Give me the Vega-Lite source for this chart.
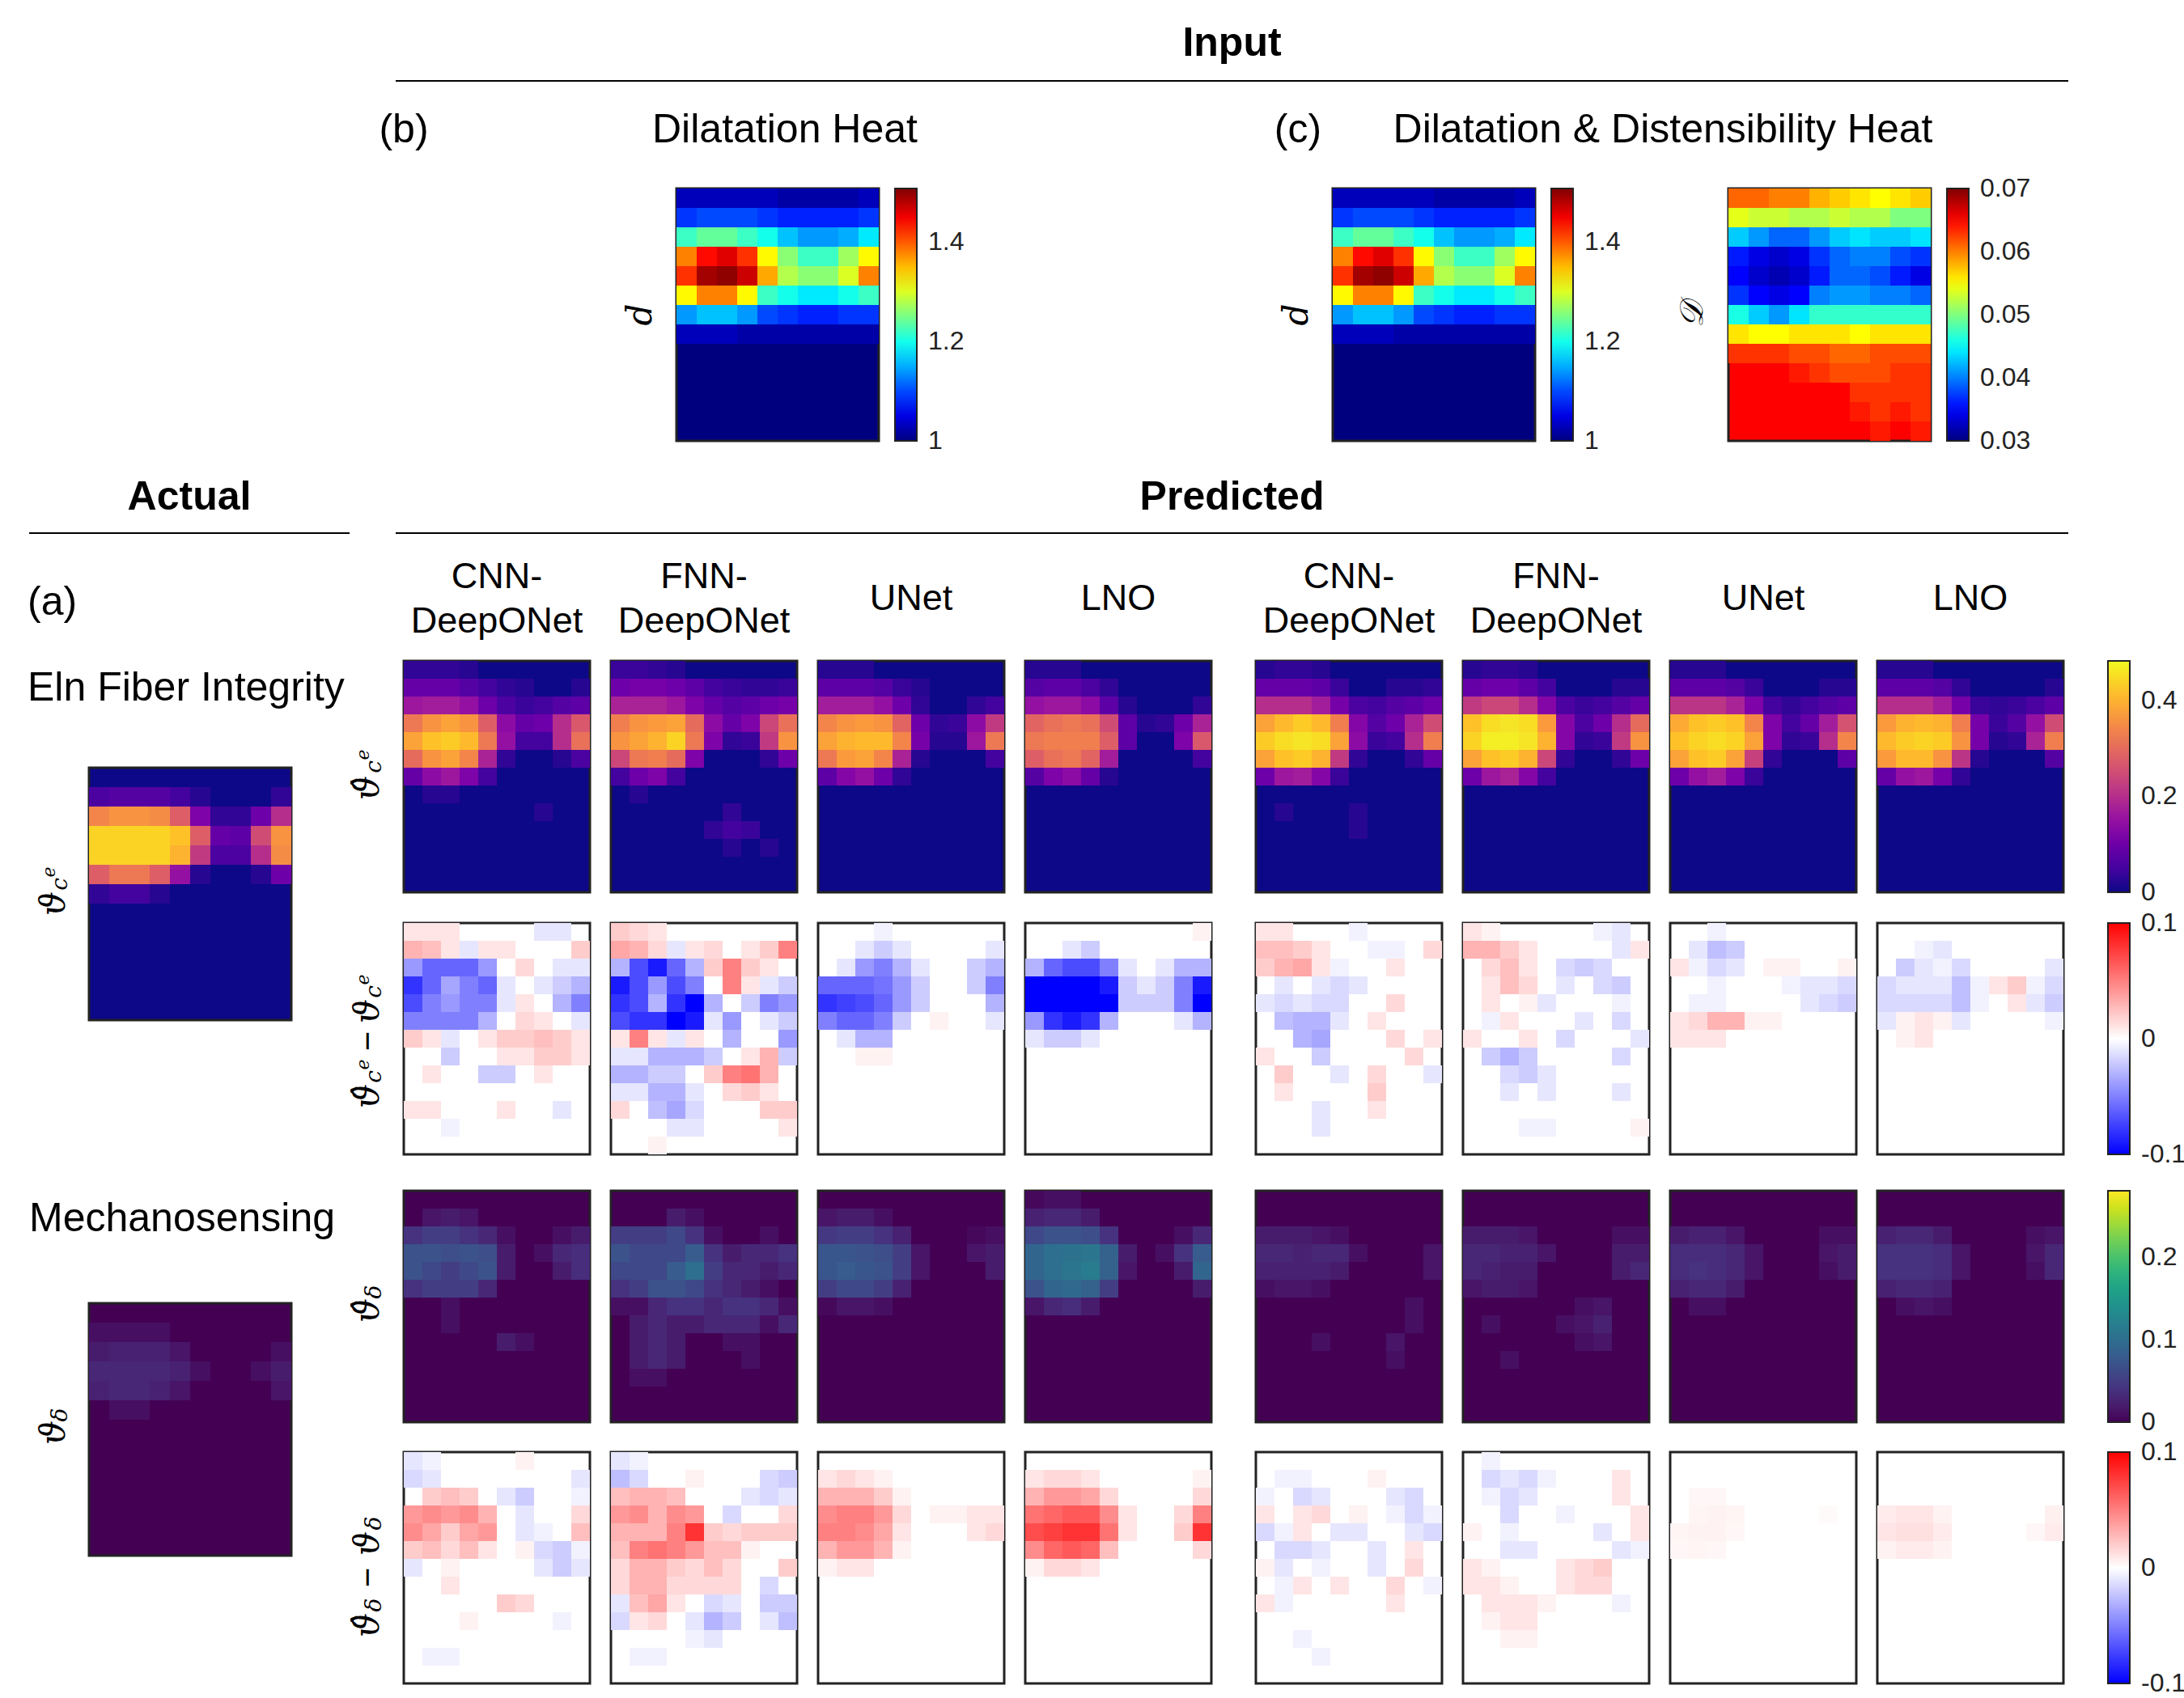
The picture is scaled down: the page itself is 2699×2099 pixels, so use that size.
{"$schema":"https://vega.github.io/schema/vega-lite/v6.json","padding":0,"background":"white","spacing":0,"resolve":{"scale":{"color":"independent"},"legend":{"color":"independent"}},
"config":{"axis":{"disable":true},"view":{"stroke":null},"text":{"font":"Liberation Sans","fontSize":50,"color":"black"},"legend":{"padding":0,"gradientThickness":27,"labelFontSize":32,"labelFont":"Liberation Sans","labelColor":"#222","gradientStrokeColor":"#222","gradientStrokeWidth":2,"offset":55,"gradientLength":286,"labelOverlap":false}},
"datasets":{
"i1":[{"c":0,"r":0,"v":1.03},{"c":1,"r":0,"v":1.03},{"c":2,"r":0,"v":1.03},{"c":3,"r":0,"v":1.03},{"c":4,"r":0,"v":1.03},{"c":5,"r":0,"v":1.02},{"c":6,"r":0,"v":1.02},{"c":7,"r":0,"v":1.02},{"c":8,"r":0,"v":1.02},{"c":9,"r":0,"v":1.03},{"c":0,"r":1,"v":1.09},{"c":1,"r":1,"v":1.1},{"c":2,"r":1,"v":1.1},{"c":3,"r":1,"v":1.1},{"c":4,"r":1,"v":1.09},{"c":5,"r":1,"v":1.08},{"c":6,"r":1,"v":1.08},{"c":7,"r":1,"v":1.08},{"c":8,"r":1,"v":1.08},{"c":9,"r":1,"v":1.09},{"c":0,"r":2,"v":1.22},{"c":1,"r":2,"v":1.24},{"c":2,"r":2,"v":1.24},{"c":3,"r":2,"v":1.22},{"c":4,"r":2,"v":1.2},{"c":5,"r":2,"v":1.16},{"c":6,"r":2,"v":1.14},{"c":7,"r":2,"v":1.14},{"c":8,"r":2,"v":1.15},{"c":9,"r":2,"v":1.18},{"c":0,"r":3,"v":1.38},{"c":1,"r":3,"v":1.44},{"c":2,"r":3,"v":1.46},{"c":3,"r":3,"v":1.42},{"c":4,"r":3,"v":1.32},{"c":5,"r":3,"v":1.26},{"c":6,"r":3,"v":1.22},{"c":7,"r":3,"v":1.22},{"c":8,"r":3,"v":1.27},{"c":9,"r":3,"v":1.32},{"c":0,"r":4,"v":1.42},{"c":1,"r":4,"v":1.49},{"c":2,"r":4,"v":1.5},{"c":3,"r":4,"v":1.47},{"c":4,"r":4,"v":1.36},{"c":5,"r":4,"v":1.28},{"c":6,"r":4,"v":1.26},{"c":7,"r":4,"v":1.26},{"c":8,"r":4,"v":1.3},{"c":9,"r":4,"v":1.38},{"c":0,"r":5,"v":1.32},{"c":1,"r":5,"v":1.38},{"c":2,"r":5,"v":1.38},{"c":3,"r":5,"v":1.32},{"c":4,"r":5,"v":1.22},{"c":5,"r":5,"v":1.2},{"c":6,"r":5,"v":1.18},{"c":7,"r":5,"v":1.18},{"c":8,"r":5,"v":1.2},{"c":9,"r":5,"v":1.22},{"c":0,"r":6,"v":1.14},{"c":1,"r":6,"v":1.16},{"c":2,"r":6,"v":1.16},{"c":3,"r":6,"v":1.14},{"c":4,"r":6,"v":1.1},{"c":5,"r":6,"v":1.09},{"c":6,"r":6,"v":1.08},{"c":7,"r":6,"v":1.08},{"c":8,"r":6,"v":1.09},{"c":9,"r":6,"v":1.09},{"c":0,"r":7,"v":1.03},{"c":1,"r":7,"v":1.03},{"c":2,"r":7,"v":1.03},{"c":3,"r":7,"v":1.02},{"c":4,"r":7,"v":1.02},{"c":5,"r":7,"v":1.02},{"c":6,"r":7,"v":1.02},{"c":7,"r":7,"v":1.02},{"c":8,"r":7,"v":1.02},{"c":9,"r":7,"v":1.02}],
"i3":[{"c":0,"r":0,"v":0.061},{"c":1,"r":0,"v":0.061},{"c":2,"r":0,"v":0.06},{"c":3,"r":0,"v":0.06},{"c":4,"r":0,"v":0.058},{"c":5,"r":0,"v":0.057},{"c":6,"r":0,"v":0.056},{"c":7,"r":0,"v":0.055},{"c":8,"r":0,"v":0.056},{"c":9,"r":0,"v":0.057},{"c":0,"r":1,"v":0.054},{"c":1,"r":1,"v":0.053},{"c":2,"r":1,"v":0.053},{"c":3,"r":1,"v":0.052},{"c":4,"r":1,"v":0.052},{"c":5,"r":1,"v":0.053},{"c":6,"r":1,"v":0.052},{"c":7,"r":1,"v":0.052},{"c":8,"r":1,"v":0.05},{"c":9,"r":1,"v":0.05},{"c":0,"r":2,"v":0.043},{"c":1,"r":2,"v":0.041},{"c":2,"r":2,"v":0.039},{"c":3,"r":2,"v":0.039},{"c":4,"r":2,"v":0.041},{"c":5,"r":2,"v":0.043},{"c":6,"r":2,"v":0.044},{"c":7,"r":2,"v":0.043},{"c":8,"r":2,"v":0.043},{"c":9,"r":2,"v":0.044},{"c":0,"r":3,"v":0.036},{"c":1,"r":3,"v":0.034},{"c":2,"r":3,"v":0.033},{"c":3,"r":3,"v":0.034},{"c":4,"r":3,"v":0.037},{"c":5,"r":3,"v":0.039},{"c":6,"r":3,"v":0.04},{"c":7,"r":3,"v":0.04},{"c":8,"r":3,"v":0.038},{"c":9,"r":3,"v":0.037},{"c":0,"r":4,"v":0.035},{"c":1,"r":4,"v":0.033},{"c":2,"r":4,"v":0.032},{"c":3,"r":4,"v":0.033},{"c":4,"r":4,"v":0.036},{"c":5,"r":4,"v":0.039},{"c":6,"r":4,"v":0.039},{"c":7,"r":4,"v":0.038},{"c":8,"r":4,"v":0.036},{"c":9,"r":4,"v":0.034},{"c":0,"r":5,"v":0.037},{"c":1,"r":5,"v":0.035},{"c":2,"r":5,"v":0.034},{"c":3,"r":5,"v":0.035},{"c":4,"r":5,"v":0.04},{"c":5,"r":5,"v":0.041},{"c":6,"r":5,"v":0.041},{"c":7,"r":5,"v":0.04},{"c":8,"r":5,"v":0.04},{"c":9,"r":5,"v":0.039},{"c":0,"r":6,"v":0.046},{"c":1,"r":6,"v":0.043},{"c":2,"r":6,"v":0.041},{"c":3,"r":6,"v":0.044},{"c":4,"r":6,"v":0.047},{"c":5,"r":6,"v":0.047},{"c":6,"r":6,"v":0.047},{"c":7,"r":6,"v":0.047},{"c":8,"r":6,"v":0.047},{"c":9,"r":6,"v":0.047},{"c":0,"r":7,"v":0.056},{"c":1,"r":7,"v":0.055},{"c":2,"r":7,"v":0.055},{"c":3,"r":7,"v":0.056},{"c":4,"r":7,"v":0.056},{"c":5,"r":7,"v":0.056},{"c":6,"r":7,"v":0.055},{"c":7,"r":7,"v":0.056},{"c":8,"r":7,"v":0.056},{"c":9,"r":7,"v":0.056},{"c":0,"r":8,"v":0.063},{"c":1,"r":8,"v":0.063},{"c":2,"r":8,"v":0.063},{"c":3,"r":8,"v":0.062},{"c":4,"r":8,"v":0.062},{"c":5,"r":8,"v":0.061},{"c":6,"r":8,"v":0.061},{"c":7,"r":8,"v":0.062},{"c":8,"r":8,"v":0.062},{"c":9,"r":8,"v":0.062},{"c":3,"r":9,"v":0.064},{"c":4,"r":9,"v":0.063},{"c":5,"r":9,"v":0.062},{"c":6,"r":9,"v":0.062},{"c":7,"r":9,"v":0.062},{"c":8,"r":9,"v":0.063},{"c":9,"r":9,"v":0.063},{"c":6,"r":10,"v":0.063},{"c":7,"r":10,"v":0.063},{"c":8,"r":10,"v":0.063},{"c":9,"r":10,"v":0.063},{"c":6,"r":11,"v":0.064},{"c":7,"r":11,"v":0.063},{"c":8,"r":11,"v":0.064},{"c":9,"r":11,"v":0.063},{"c":7,"r":12,"v":0.064},{"c":9,"r":12,"v":0.064}],
"a1":[{"c":0,"r":1,"v":0.06},{"c":1,"r":1,"v":0.07},{"c":2,"r":1,"v":0.07},{"c":3,"r":1,"v":0.07},{"c":4,"r":1,"v":0.05},{"c":5,"r":1,"v":0.02},{"c":9,"r":1,"v":0.03},{"c":0,"r":2,"v":0.34},{"c":1,"r":2,"v":0.36},{"c":2,"r":2,"v":0.36},{"c":3,"r":2,"v":0.35},{"c":4,"r":2,"v":0.28},{"c":5,"r":2,"v":0.12},{"c":6,"r":2,"v":0.03},{"c":7,"r":2,"v":0.03},{"c":8,"r":2,"v":0.1},{"c":9,"r":2,"v":0.2},{"c":0,"r":3,"v":0.44},{"c":1,"r":3,"v":0.44},{"c":2,"r":3,"v":0.44},{"c":3,"r":3,"v":0.44},{"c":4,"r":3,"v":0.42},{"c":5,"r":3,"v":0.28},{"c":6,"r":3,"v":0.09},{"c":7,"r":3,"v":0.08},{"c":8,"r":3,"v":0.25},{"c":9,"r":3,"v":0.36},{"c":0,"r":4,"v":0.44},{"c":1,"r":4,"v":0.44},{"c":2,"r":4,"v":0.44},{"c":3,"r":4,"v":0.44},{"c":4,"r":4,"v":0.4},{"c":5,"r":4,"v":0.22},{"c":6,"r":4,"v":0.06},{"c":7,"r":4,"v":0.06},{"c":8,"r":4,"v":0.2},{"c":9,"r":4,"v":0.35},{"c":0,"r":5,"v":0.28},{"c":1,"r":5,"v":0.32},{"c":2,"r":5,"v":0.32},{"c":3,"r":5,"v":0.28},{"c":4,"r":5,"v":0.15},{"c":5,"r":5,"v":0.02},{"c":8,"r":5,"v":0.02},{"c":9,"r":5,"v":0.1},{"c":0,"r":6,"v":0.03},{"c":1,"r":6,"v":0.05},{"c":2,"r":6,"v":0.05},{"c":3,"r":6,"v":0.02}],
"a2":[{"c":0,"r":1,"v":0.01},{"c":1,"r":1,"v":0.01},{"c":2,"r":1,"v":0.01},{"c":3,"r":1,"v":0.01},{"c":0,"r":2,"v":0.02},{"c":1,"r":2,"v":0.025},{"c":2,"r":2,"v":0.025},{"c":3,"r":2,"v":0.025},{"c":4,"r":2,"v":0.015},{"c":9,"r":2,"v":0.01},{"c":0,"r":3,"v":0.03},{"c":1,"r":3,"v":0.03},{"c":2,"r":3,"v":0.03},{"c":3,"r":3,"v":0.03},{"c":4,"r":3,"v":0.025},{"c":5,"r":3,"v":0.01},{"c":8,"r":3,"v":0.01},{"c":9,"r":3,"v":0.02},{"c":0,"r":4,"v":0.025},{"c":1,"r":4,"v":0.03},{"c":2,"r":4,"v":0.03},{"c":3,"r":4,"v":0.025},{"c":4,"r":4,"v":0.015},{"c":9,"r":4,"v":0.015},{"c":1,"r":5,"v":0.01},{"c":2,"r":5,"v":0.01}],
"m1":[{"c":0,"r":0,"v":0.03},{"c":1,"r":0,"v":0.03},{"c":2,"r":0,"v":0.03},{"c":3,"r":0,"v":0.02},{"c":0,"r":1,"v":0.09},{"c":1,"r":1,"v":0.09},{"c":2,"r":1,"v":0.09},{"c":3,"r":1,"v":0.07},{"c":4,"r":1,"v":0.05},{"c":5,"r":1,"v":0.03},{"c":6,"r":1,"v":0.02},{"c":9,"r":1,"v":0.02},{"c":0,"r":2,"v":0.16},{"c":1,"r":2,"v":0.17},{"c":2,"r":2,"v":0.17},{"c":3,"r":2,"v":0.15},{"c":4,"r":2,"v":0.1},{"c":5,"r":2,"v":0.06},{"c":6,"r":2,"v":0.04},{"c":7,"r":2,"v":0.05},{"c":8,"r":2,"v":0.07},{"c":9,"r":2,"v":0.08},{"c":0,"r":3,"v":0.32},{"c":1,"r":3,"v":0.36},{"c":2,"r":3,"v":0.38},{"c":3,"r":3,"v":0.36},{"c":4,"r":3,"v":0.28},{"c":5,"r":3,"v":0.14},{"c":6,"r":3,"v":0.09},{"c":7,"r":3,"v":0.1},{"c":8,"r":3,"v":0.2},{"c":9,"r":3,"v":0.27},{"c":0,"r":4,"v":0.38},{"c":1,"r":4,"v":0.42},{"c":2,"r":4,"v":0.43},{"c":3,"r":4,"v":0.41},{"c":4,"r":4,"v":0.32},{"c":5,"r":4,"v":0.15},{"c":6,"r":4,"v":0.05},{"c":7,"r":4,"v":0.05},{"c":8,"r":4,"v":0.2},{"c":9,"r":4,"v":0.31},{"c":0,"r":5,"v":0.3},{"c":1,"r":5,"v":0.36},{"c":2,"r":5,"v":0.38},{"c":3,"r":5,"v":0.34},{"c":4,"r":5,"v":0.18},{"c":5,"r":5,"v":0.03},{"c":8,"r":5,"v":0.02},{"c":9,"r":5,"v":0.06},{"c":0,"r":6,"v":0.09},{"c":1,"r":6,"v":0.14},{"c":2,"r":6,"v":0.16},{"c":3,"r":6,"v":0.12},{"c":4,"r":6,"v":0.05},{"c":1,"r":7,"v":0.02},{"c":2,"r":7,"v":0.02},{"c":7,"r":8,"v":0.02}],
"m2":[{"c":0,"r":0,"v":0.04},{"c":1,"r":0,"v":0.04},{"c":2,"r":0,"v":0.03},{"c":3,"r":0,"v":0.02},{"c":0,"r":1,"v":0.1},{"c":1,"r":1,"v":0.11},{"c":2,"r":1,"v":0.11},{"c":3,"r":1,"v":0.1},{"c":4,"r":1,"v":0.08},{"c":5,"r":1,"v":0.05},{"c":6,"r":1,"v":0.04},{"c":7,"r":1,"v":0.03},{"c":8,"r":1,"v":0.03},{"c":9,"r":1,"v":0.04},{"c":0,"r":2,"v":0.18},{"c":1,"r":2,"v":0.18},{"c":2,"r":2,"v":0.18},{"c":3,"r":2,"v":0.16},{"c":4,"r":2,"v":0.12},{"c":5,"r":2,"v":0.09},{"c":6,"r":2,"v":0.07},{"c":7,"r":2,"v":0.08},{"c":8,"r":2,"v":0.1},{"c":9,"r":2,"v":0.11},{"c":0,"r":3,"v":0.33},{"c":1,"r":3,"v":0.36},{"c":2,"r":3,"v":0.37},{"c":3,"r":3,"v":0.38},{"c":4,"r":3,"v":0.3},{"c":5,"r":3,"v":0.14},{"c":6,"r":3,"v":0.09},{"c":7,"r":3,"v":0.12},{"c":8,"r":3,"v":0.24},{"c":9,"r":3,"v":0.31},{"c":0,"r":4,"v":0.36},{"c":1,"r":4,"v":0.38},{"c":2,"r":4,"v":0.4},{"c":3,"r":4,"v":0.44},{"c":4,"r":4,"v":0.32},{"c":5,"r":4,"v":0.12},{"c":6,"r":4,"v":0.03},{"c":7,"r":4,"v":0.04},{"c":8,"r":4,"v":0.22},{"c":9,"r":4,"v":0.36},{"c":0,"r":5,"v":0.24},{"c":1,"r":5,"v":0.32},{"c":2,"r":5,"v":0.33},{"c":3,"r":5,"v":0.3},{"c":4,"r":5,"v":0.12},{"c":8,"r":5,"v":0.03},{"c":9,"r":5,"v":0.1},{"c":0,"r":6,"v":0.05},{"c":1,"r":6,"v":0.1},{"c":2,"r":6,"v":0.12},{"c":3,"r":6,"v":0.05},{"c":1,"r":7,"v":0.02},{"c":6,"r":8,"v":0.03},{"c":5,"r":9,"v":0.03},{"c":6,"r":9,"v":0.05},{"c":7,"r":9,"v":0.04},{"c":6,"r":10,"v":0.02},{"c":8,"r":10,"v":0.02}],
"m3":[{"c":0,"r":0,"v":0.02},{"c":1,"r":0,"v":0.02},{"c":2,"r":0,"v":0.02},{"c":0,"r":1,"v":0.08},{"c":1,"r":1,"v":0.08},{"c":2,"r":1,"v":0.08},{"c":3,"r":1,"v":0.07},{"c":4,"r":1,"v":0.04},{"c":5,"r":1,"v":0.02},{"c":0,"r":2,"v":0.17},{"c":1,"r":2,"v":0.17},{"c":2,"r":2,"v":0.17},{"c":3,"r":2,"v":0.15},{"c":4,"r":2,"v":0.1},{"c":5,"r":2,"v":0.03},{"c":8,"r":2,"v":0.03},{"c":9,"r":2,"v":0.05},{"c":0,"r":3,"v":0.34},{"c":1,"r":3,"v":0.36},{"c":2,"r":3,"v":0.37},{"c":3,"r":3,"v":0.36},{"c":4,"r":3,"v":0.29},{"c":5,"r":3,"v":0.1},{"c":6,"r":3,"v":0.03},{"c":7,"r":3,"v":0.04},{"c":8,"r":3,"v":0.14},{"c":9,"r":3,"v":0.22},{"c":0,"r":4,"v":0.38},{"c":1,"r":4,"v":0.4},{"c":2,"r":4,"v":0.41},{"c":3,"r":4,"v":0.41},{"c":4,"r":4,"v":0.34},{"c":5,"r":4,"v":0.11},{"c":6,"r":4,"v":0.02},{"c":7,"r":4,"v":0.02},{"c":8,"r":4,"v":0.16},{"c":9,"r":4,"v":0.32},{"c":0,"r":5,"v":0.32},{"c":1,"r":5,"v":0.37},{"c":2,"r":5,"v":0.38},{"c":3,"r":5,"v":0.34},{"c":4,"r":5,"v":0.18},{"c":5,"r":5,"v":0.02},{"c":9,"r":5,"v":0.05},{"c":0,"r":6,"v":0.08},{"c":1,"r":6,"v":0.13},{"c":2,"r":6,"v":0.15},{"c":3,"r":6,"v":0.1},{"c":4,"r":6,"v":0.03}],
"m4":[{"c":0,"r":0,"v":0.02},{"c":1,"r":0,"v":0.02},{"c":2,"r":0,"v":0.02},{"c":0,"r":1,"v":0.07},{"c":1,"r":1,"v":0.08},{"c":2,"r":1,"v":0.08},{"c":3,"r":1,"v":0.06},{"c":4,"r":1,"v":0.03},{"c":0,"r":2,"v":0.15},{"c":1,"r":2,"v":0.16},{"c":2,"r":2,"v":0.16},{"c":3,"r":2,"v":0.14},{"c":4,"r":2,"v":0.08},{"c":5,"r":2,"v":0.02},{"c":9,"r":2,"v":0.03},{"c":0,"r":3,"v":0.29},{"c":1,"r":3,"v":0.31},{"c":2,"r":3,"v":0.32},{"c":3,"r":3,"v":0.31},{"c":4,"r":3,"v":0.25},{"c":5,"r":3,"v":0.08},{"c":6,"r":3,"v":0.02},{"c":7,"r":3,"v":0.03},{"c":8,"r":3,"v":0.1},{"c":9,"r":3,"v":0.18},{"c":0,"r":4,"v":0.32},{"c":1,"r":4,"v":0.33},{"c":2,"r":4,"v":0.33},{"c":3,"r":4,"v":0.33},{"c":4,"r":4,"v":0.28},{"c":5,"r":4,"v":0.08},{"c":8,"r":4,"v":0.12},{"c":9,"r":4,"v":0.27},{"c":0,"r":5,"v":0.28},{"c":1,"r":5,"v":0.31},{"c":2,"r":5,"v":0.32},{"c":3,"r":5,"v":0.29},{"c":4,"r":5,"v":0.17},{"c":9,"r":5,"v":0.05},{"c":0,"r":6,"v":0.07},{"c":1,"r":6,"v":0.12},{"c":2,"r":6,"v":0.14},{"c":3,"r":6,"v":0.09},{"c":4,"r":6,"v":0.02}],
"m5":[{"c":0,"r":0,"v":0.02},{"c":1,"r":0,"v":0.03},{"c":2,"r":0,"v":0.03},{"c":3,"r":0,"v":0.02},{"c":0,"r":1,"v":0.09},{"c":1,"r":1,"v":0.09},{"c":2,"r":1,"v":0.09},{"c":3,"r":1,"v":0.08},{"c":4,"r":1,"v":0.04},{"c":7,"r":1,"v":0.02},{"c":8,"r":1,"v":0.02},{"c":9,"r":1,"v":0.03},{"c":0,"r":2,"v":0.2},{"c":1,"r":2,"v":0.2},{"c":2,"r":2,"v":0.2},{"c":3,"r":2,"v":0.17},{"c":4,"r":2,"v":0.11},{"c":5,"r":2,"v":0.06},{"c":6,"r":2,"v":0.05},{"c":7,"r":2,"v":0.07},{"c":8,"r":2,"v":0.08},{"c":9,"r":2,"v":0.1},{"c":0,"r":3,"v":0.38},{"c":1,"r":3,"v":0.41},{"c":2,"r":3,"v":0.43},{"c":3,"r":3,"v":0.41},{"c":4,"r":3,"v":0.33},{"c":5,"r":3,"v":0.13},{"c":6,"r":3,"v":0.07},{"c":7,"r":3,"v":0.1},{"c":8,"r":3,"v":0.18},{"c":9,"r":3,"v":0.25},{"c":0,"r":4,"v":0.43},{"c":1,"r":4,"v":0.45},{"c":2,"r":4,"v":0.46},{"c":3,"r":4,"v":0.45},{"c":4,"r":4,"v":0.38},{"c":5,"r":4,"v":0.14},{"c":6,"r":4,"v":0.04},{"c":7,"r":4,"v":0.05},{"c":8,"r":4,"v":0.2},{"c":9,"r":4,"v":0.33},{"c":0,"r":5,"v":0.38},{"c":1,"r":5,"v":0.42},{"c":2,"r":5,"v":0.43},{"c":3,"r":5,"v":0.4},{"c":4,"r":5,"v":0.22},{"c":5,"r":5,"v":0.03},{"c":8,"r":5,"v":0.03},{"c":9,"r":5,"v":0.09},{"c":0,"r":6,"v":0.1},{"c":1,"r":6,"v":0.16},{"c":2,"r":6,"v":0.17},{"c":3,"r":6,"v":0.13},{"c":4,"r":6,"v":0.04},{"c":1,"r":8,"v":0.02},{"c":5,"r":8,"v":0.02},{"c":5,"r":9,"v":0.02}],
"m6":[{"c":0,"r":0,"v":0.02},{"c":1,"r":0,"v":0.03},{"c":2,"r":0,"v":0.03},{"c":3,"r":0,"v":0.02},{"c":0,"r":1,"v":0.09},{"c":1,"r":1,"v":0.1},{"c":2,"r":1,"v":0.1},{"c":3,"r":1,"v":0.08},{"c":4,"r":1,"v":0.05},{"c":8,"r":1,"v":0.02},{"c":9,"r":1,"v":0.02},{"c":0,"r":2,"v":0.22},{"c":1,"r":2,"v":0.24},{"c":2,"r":2,"v":0.24},{"c":3,"r":2,"v":0.2},{"c":4,"r":2,"v":0.13},{"c":5,"r":2,"v":0.06},{"c":6,"r":2,"v":0.04},{"c":7,"r":2,"v":0.05},{"c":8,"r":2,"v":0.07},{"c":9,"r":2,"v":0.09},{"c":0,"r":3,"v":0.42},{"c":1,"r":3,"v":0.45},{"c":2,"r":3,"v":0.46},{"c":3,"r":3,"v":0.45},{"c":4,"r":3,"v":0.37},{"c":5,"r":3,"v":0.13},{"c":6,"r":3,"v":0.06},{"c":7,"r":3,"v":0.1},{"c":8,"r":3,"v":0.2},{"c":9,"r":3,"v":0.3},{"c":0,"r":4,"v":0.44},{"c":1,"r":4,"v":0.47},{"c":2,"r":4,"v":0.47},{"c":3,"r":4,"v":0.46},{"c":4,"r":4,"v":0.4},{"c":5,"r":4,"v":0.13},{"c":6,"r":4,"v":0.03},{"c":7,"r":4,"v":0.04},{"c":8,"r":4,"v":0.22},{"c":9,"r":4,"v":0.36},{"c":0,"r":5,"v":0.38},{"c":1,"r":5,"v":0.42},{"c":2,"r":5,"v":0.43},{"c":3,"r":5,"v":0.4},{"c":4,"r":5,"v":0.24},{"c":5,"r":5,"v":0.03},{"c":8,"r":5,"v":0.03},{"c":9,"r":5,"v":0.1},{"c":0,"r":6,"v":0.1},{"c":1,"r":6,"v":0.16},{"c":2,"r":6,"v":0.18},{"c":3,"r":6,"v":0.13},{"c":4,"r":6,"v":0.05}],
"m7":[{"c":0,"r":0,"v":0.02},{"c":1,"r":0,"v":0.02},{"c":2,"r":0,"v":0.02},{"c":0,"r":1,"v":0.08},{"c":1,"r":1,"v":0.08},{"c":2,"r":1,"v":0.08},{"c":3,"r":1,"v":0.07},{"c":4,"r":1,"v":0.04},{"c":8,"r":1,"v":0.02},{"c":9,"r":1,"v":0.02},{"c":0,"r":2,"v":0.21},{"c":1,"r":2,"v":0.21},{"c":2,"r":2,"v":0.21},{"c":3,"r":2,"v":0.18},{"c":4,"r":2,"v":0.12},{"c":5,"r":2,"v":0.05},{"c":6,"r":2,"v":0.03},{"c":7,"r":2,"v":0.05},{"c":8,"r":2,"v":0.07},{"c":9,"r":2,"v":0.08},{"c":0,"r":3,"v":0.39},{"c":1,"r":3,"v":0.42},{"c":2,"r":3,"v":0.43},{"c":3,"r":3,"v":0.42},{"c":4,"r":3,"v":0.34},{"c":5,"r":3,"v":0.12},{"c":6,"r":3,"v":0.05},{"c":7,"r":3,"v":0.09},{"c":8,"r":3,"v":0.17},{"c":9,"r":3,"v":0.26},{"c":0,"r":4,"v":0.42},{"c":1,"r":4,"v":0.44},{"c":2,"r":4,"v":0.45},{"c":3,"r":4,"v":0.44},{"c":4,"r":4,"v":0.38},{"c":5,"r":4,"v":0.12},{"c":6,"r":4,"v":0.03},{"c":7,"r":4,"v":0.04},{"c":8,"r":4,"v":0.2},{"c":9,"r":4,"v":0.34},{"c":0,"r":5,"v":0.38},{"c":1,"r":5,"v":0.42},{"c":2,"r":5,"v":0.43},{"c":3,"r":5,"v":0.38},{"c":4,"r":5,"v":0.23},{"c":5,"r":5,"v":0.03},{"c":9,"r":5,"v":0.08},{"c":0,"r":6,"v":0.1},{"c":1,"r":6,"v":0.15},{"c":2,"r":6,"v":0.17},{"c":3,"r":6,"v":0.12},{"c":4,"r":6,"v":0.04}],
"m8":[{"c":0,"r":0,"v":0.02},{"c":1,"r":0,"v":0.02},{"c":2,"r":0,"v":0.02},{"c":0,"r":1,"v":0.08},{"c":1,"r":1,"v":0.08},{"c":2,"r":1,"v":0.08},{"c":3,"r":1,"v":0.07},{"c":4,"r":1,"v":0.03},{"c":9,"r":1,"v":0.02},{"c":0,"r":2,"v":0.2},{"c":1,"r":2,"v":0.2},{"c":2,"r":2,"v":0.2},{"c":3,"r":2,"v":0.17},{"c":4,"r":2,"v":0.11},{"c":5,"r":2,"v":0.04},{"c":6,"r":2,"v":0.03},{"c":7,"r":2,"v":0.04},{"c":8,"r":2,"v":0.06},{"c":9,"r":2,"v":0.08},{"c":0,"r":3,"v":0.37},{"c":1,"r":3,"v":0.4},{"c":2,"r":3,"v":0.41},{"c":3,"r":3,"v":0.4},{"c":4,"r":3,"v":0.33},{"c":5,"r":3,"v":0.11},{"c":6,"r":3,"v":0.04},{"c":7,"r":3,"v":0.07},{"c":8,"r":3,"v":0.15},{"c":9,"r":3,"v":0.25},{"c":0,"r":4,"v":0.41},{"c":1,"r":4,"v":0.43},{"c":2,"r":4,"v":0.44},{"c":3,"r":4,"v":0.43},{"c":4,"r":4,"v":0.36},{"c":5,"r":4,"v":0.11},{"c":6,"r":4,"v":0.02},{"c":7,"r":4,"v":0.03},{"c":8,"r":4,"v":0.18},{"c":9,"r":4,"v":0.33},{"c":0,"r":5,"v":0.37},{"c":1,"r":5,"v":0.41},{"c":2,"r":5,"v":0.41},{"c":3,"r":5,"v":0.36},{"c":4,"r":5,"v":0.21},{"c":5,"r":5,"v":0.02},{"c":9,"r":5,"v":0.07},{"c":0,"r":6,"v":0.09},{"c":1,"r":6,"v":0.15},{"c":2,"r":6,"v":0.16},{"c":3,"r":6,"v":0.11},{"c":4,"r":6,"v":0.03}],
"n1":[{"c":0,"r":0,"v":0.01},{"c":1,"r":0,"v":0.01},{"c":2,"r":0,"v":0.01},{"c":7,"r":0,"v":-0.01},{"c":8,"r":0,"v":-0.01},{"c":0,"r":1,"v":0.03},{"c":1,"r":1,"v":0.025},{"c":2,"r":1,"v":0.01},{"c":3,"r":1,"v":-0.01},{"c":4,"r":1,"v":0.01},{"c":5,"r":1,"v":0.01},{"c":9,"r":1,"v":0.02},{"c":0,"r":2,"v":-0.04},{"c":1,"r":2,"v":-0.06},{"c":2,"r":2,"v":-0.06},{"c":3,"r":2,"v":-0.06},{"c":4,"r":2,"v":-0.04},{"c":6,"r":2,"v":0.015},{"c":8,"r":2,"v":-0.01},{"c":9,"r":2,"v":-0.01},{"c":0,"r":3,"v":-0.08},{"c":1,"r":3,"v":-0.06},{"c":2,"r":3,"v":-0.035},{"c":3,"r":3,"v":-0.05},{"c":4,"r":3,"v":-0.06},{"c":5,"r":3,"v":-0.01},{"c":7,"r":3,"v":-0.01},{"c":8,"r":3,"v":-0.02},{"c":9,"r":3,"v":-0.03},{"c":0,"r":4,"v":-0.07},{"c":1,"r":4,"v":-0.05},{"c":2,"r":4,"v":-0.04},{"c":3,"r":4,"v":-0.05},{"c":4,"r":4,"v":-0.05},{"c":5,"r":4,"v":-0.01},{"c":6,"r":4,"v":0.01},{"c":8,"r":4,"v":-0.03},{"c":9,"r":4,"v":-0.05},{"c":0,"r":5,"v":-0.05},{"c":1,"r":5,"v":-0.05},{"c":2,"r":5,"v":-0.05},{"c":3,"r":5,"v":-0.05},{"c":4,"r":5,"v":-0.03},{"c":6,"r":5,"v":0.015},{"c":7,"r":5,"v":0.01},{"c":9,"r":5,"v":-0.01},{"c":0,"r":6,"v":0.02},{"c":1,"r":6,"v":0.01},{"c":2,"r":6,"v":-0.01},{"c":4,"r":6,"v":0.01},{"c":5,"r":6,"v":0.02},{"c":6,"r":6,"v":0.02},{"c":7,"r":6,"v":0.025},{"c":8,"r":6,"v":0.02},{"c":9,"r":6,"v":0.01},{"c":2,"r":7,"v":-0.02},{"c":5,"r":7,"v":0.01},{"c":6,"r":7,"v":0.01},{"c":7,"r":7,"v":0.02},{"c":8,"r":7,"v":0.02},{"c":9,"r":7,"v":0.01},{"c":4,"r":8,"v":-0.02},{"c":5,"r":8,"v":-0.02},{"c":1,"r":8,"v":0.01},{"c":7,"r":8,"v":0.01},{"c":0,"r":10,"v":0.01},{"c":1,"r":10,"v":0.01},{"c":5,"r":10,"v":0.01},{"c":8,"r":10,"v":-0.01},{"c":2,"r":11,"v":-0.005}],
"n2":[{"c":0,"r":0,"v":0.02},{"c":1,"r":0,"v":0.015},{"c":2,"r":0,"v":0.01},{"c":0,"r":1,"v":0.035},{"c":1,"r":1,"v":0.03},{"c":2,"r":1,"v":0.015},{"c":3,"r":1,"v":-0.01},{"c":4,"r":1,"v":0.01},{"c":5,"r":1,"v":0.015},{"c":7,"r":1,"v":0.01},{"c":8,"r":1,"v":0.02},{"c":9,"r":1,"v":0.05},{"c":0,"r":2,"v":-0.03},{"c":1,"r":2,"v":-0.07},{"c":2,"r":2,"v":-0.09},{"c":3,"r":2,"v":-0.06},{"c":4,"r":2,"v":-0.03},{"c":5,"r":2,"v":0.02},{"c":6,"r":2,"v":0.05},{"c":7,"r":2,"v":0.02},{"c":8,"r":2,"v":0.01},{"c":0,"r":3,"v":-0.09},{"c":1,"r":3,"v":-0.07},{"c":2,"r":3,"v":-0.04},{"c":3,"r":3,"v":-0.07},{"c":4,"r":3,"v":-0.05},{"c":6,"r":3,"v":0.05},{"c":7,"r":3,"v":0.01},{"c":8,"r":3,"v":-0.01},{"c":9,"r":3,"v":-0.02},{"c":0,"r":4,"v":-0.08},{"c":1,"r":4,"v":-0.07},{"c":2,"r":4,"v":-0.03},{"c":3,"r":4,"v":-0.08},{"c":4,"r":4,"v":-0.1},{"c":5,"r":4,"v":-0.03},{"c":7,"r":4,"v":-0.02},{"c":8,"r":4,"v":-0.05},{"c":9,"r":4,"v":-0.04},{"c":0,"r":5,"v":-0.07},{"c":1,"r":5,"v":-0.08},{"c":2,"r":5,"v":-0.08},{"c":3,"r":5,"v":-0.1},{"c":4,"r":5,"v":-0.09},{"c":5,"r":5,"v":-0.01},{"c":6,"r":5,"v":-0.04},{"c":8,"r":5,"v":-0.01},{"c":9,"r":5,"v":-0.02},{"c":0,"r":6,"v":0.01},{"c":1,"r":6,"v":0.05},{"c":2,"r":6,"v":0.01},{"c":3,"r":6,"v":-0.01},{"c":4,"r":6,"v":0.01},{"c":6,"r":6,"v":-0.03},{"c":9,"r":6,"v":-0.04},{"c":0,"r":7,"v":-0.01},{"c":1,"r":7,"v":-0.01},{"c":2,"r":7,"v":-0.03},{"c":3,"r":7,"v":-0.03},{"c":4,"r":7,"v":-0.03},{"c":5,"r":7,"v":-0.02},{"c":7,"r":7,"v":0.01},{"c":8,"r":7,"v":0.03},{"c":9,"r":7,"v":-0.02},{"c":0,"r":8,"v":-0.03},{"c":1,"r":8,"v":-0.03},{"c":2,"r":8,"v":-0.02},{"c":3,"r":8,"v":-0.02},{"c":5,"r":8,"v":0.02},{"c":6,"r":8,"v":0.05},{"c":7,"r":8,"v":0.055},{"c":8,"r":8,"v":0.03},{"c":0,"r":9,"v":-0.01},{"c":1,"r":9,"v":-0.01},{"c":2,"r":9,"v":-0.03},{"c":3,"r":9,"v":-0.03},{"c":4,"r":9,"v":-0.01},{"c":6,"r":9,"v":0.015},{"c":7,"r":9,"v":0.02},{"c":8,"r":9,"v":0.01},{"c":0,"r":10,"v":0.015},{"c":2,"r":10,"v":-0.025},{"c":3,"r":10,"v":-0.035},{"c":4,"r":10,"v":-0.015},{"c":8,"r":10,"v":0.02},{"c":9,"r":10,"v":0.02},{"c":3,"r":11,"v":-0.01},{"c":4,"r":11,"v":-0.01},{"c":9,"r":11,"v":0.01},{"c":2,"r":12,"v":0.005}],
"n3":[{"c":3,"r":0,"v":-0.005},{"c":2,"r":1,"v":-0.01},{"c":3,"r":1,"v":-0.02},{"c":4,"r":1,"v":-0.01},{"c":9,"r":1,"v":-0.01},{"c":1,"r":2,"v":-0.01},{"c":2,"r":2,"v":-0.04},{"c":3,"r":2,"v":-0.05},{"c":4,"r":2,"v":-0.03},{"c":5,"r":2,"v":-0.01},{"c":8,"r":2,"v":-0.02},{"c":9,"r":2,"v":-0.03},{"c":0,"r":3,"v":-0.06},{"c":1,"r":3,"v":-0.06},{"c":2,"r":3,"v":-0.06},{"c":3,"r":3,"v":-0.055},{"c":4,"r":3,"v":-0.04},{"c":5,"r":3,"v":-0.02},{"c":8,"r":3,"v":-0.02},{"c":9,"r":3,"v":-0.05},{"c":0,"r":4,"v":-0.08},{"c":1,"r":4,"v":-0.075},{"c":2,"r":4,"v":-0.07},{"c":3,"r":4,"v":-0.06},{"c":4,"r":4,"v":-0.04},{"c":5,"r":4,"v":-0.02},{"c":9,"r":4,"v":-0.03},{"c":0,"r":5,"v":-0.05},{"c":1,"r":5,"v":-0.06},{"c":2,"r":5,"v":-0.06},{"c":3,"r":5,"v":-0.05},{"c":4,"r":5,"v":-0.02},{"c":6,"r":5,"v":0.005},{"c":9,"r":5,"v":-0.01},{"c":1,"r":6,"v":-0.01},{"c":2,"r":6,"v":-0.03},{"c":3,"r":6,"v":-0.03},{"c":2,"r":7,"v":0.005},{"c":3,"r":7,"v":0.005}],
"n4":[{"c":2,"r":1,"v":-0.01},{"c":3,"r":1,"v":-0.02},{"c":0,"r":2,"v":-0.03},{"c":1,"r":2,"v":-0.06},{"c":2,"r":2,"v":-0.07},{"c":3,"r":2,"v":-0.07},{"c":4,"r":2,"v":-0.05},{"c":5,"r":2,"v":-0.01},{"c":7,"r":2,"v":-0.01},{"c":8,"r":2,"v":-0.03},{"c":9,"r":2,"v":-0.03},{"c":0,"r":3,"v":-0.1},{"c":1,"r":3,"v":-0.1},{"c":2,"r":3,"v":-0.1},{"c":3,"r":3,"v":-0.1},{"c":4,"r":3,"v":-0.09},{"c":5,"r":3,"v":-0.02},{"c":6,"r":3,"v":-0.01},{"c":7,"r":3,"v":-0.02},{"c":8,"r":3,"v":-0.05},{"c":9,"r":3,"v":-0.09},{"c":0,"r":4,"v":-0.1},{"c":1,"r":4,"v":-0.1},{"c":2,"r":4,"v":-0.1},{"c":3,"r":4,"v":-0.1},{"c":4,"r":4,"v":-0.1},{"c":5,"r":4,"v":-0.02},{"c":6,"r":4,"v":-0.02},{"c":7,"r":4,"v":-0.02},{"c":8,"r":4,"v":-0.05},{"c":9,"r":4,"v":-0.1},{"c":0,"r":5,"v":-0.04},{"c":1,"r":5,"v":-0.08},{"c":2,"r":5,"v":-0.09},{"c":3,"r":5,"v":-0.08},{"c":4,"r":5,"v":-0.03},{"c":8,"r":5,"v":-0.01},{"c":9,"r":5,"v":-0.03},{"c":0,"r":6,"v":-0.01},{"c":1,"r":6,"v":-0.02},{"c":2,"r":6,"v":-0.02},{"c":3,"r":6,"v":-0.01},{"c":9,"r":0,"v":0.005}],
"n5":[{"c":0,"r":0,"v":0.01},{"c":1,"r":0,"v":0.01},{"c":5,"r":0,"v":-0.005},{"c":0,"r":1,"v":0.025},{"c":1,"r":1,"v":0.025},{"c":2,"r":1,"v":0.02},{"c":3,"r":1,"v":0.01},{"c":6,"r":1,"v":-0.005},{"c":7,"r":1,"v":-0.005},{"c":9,"r":1,"v":0.015},{"c":0,"r":2,"v":0.02},{"c":1,"r":2,"v":0.03},{"c":2,"r":2,"v":0.035},{"c":3,"r":2,"v":0.01},{"c":4,"r":2,"v":-0.005},{"c":7,"r":2,"v":0.01},{"c":1,"r":3,"v":-0.01},{"c":3,"r":3,"v":-0.01},{"c":4,"r":3,"v":-0.015},{"c":5,"r":3,"v":-0.01},{"c":0,"r":4,"v":-0.01},{"c":1,"r":4,"v":-0.015},{"c":2,"r":4,"v":-0.01},{"c":3,"r":4,"v":-0.015},{"c":4,"r":4,"v":-0.015},{"c":7,"r":4,"v":0.015},{"c":1,"r":5,"v":-0.025},{"c":2,"r":5,"v":-0.03},{"c":3,"r":5,"v":-0.03},{"c":4,"r":5,"v":-0.01},{"c":6,"r":5,"v":0.01},{"c":2,"r":6,"v":-0.03},{"c":3,"r":6,"v":-0.035},{"c":7,"r":6,"v":0.015},{"c":9,"r":6,"v":0.01},{"c":0,"r":7,"v":0.01},{"c":3,"r":7,"v":-0.02},{"c":8,"r":7,"v":0.015},{"c":1,"r":8,"v":0.02},{"c":4,"r":8,"v":-0.01},{"c":6,"r":8,"v":0.015},{"c":9,"r":8,"v":-0.01},{"c":1,"r":9,"v":0.01},{"c":6,"r":9,"v":0.02},{"c":3,"r":10,"v":-0.01},{"c":6,"r":10,"v":0.01},{"c":3,"r":11,"v":-0.01}],
"n6":[{"c":0,"r":0,"v":0.01},{"c":1,"r":0,"v":0.005},{"c":7,"r":0,"v":-0.005},{"c":8,"r":0,"v":-0.01},{"c":0,"r":1,"v":0.03},{"c":1,"r":1,"v":0.03},{"c":2,"r":1,"v":0.02},{"c":3,"r":1,"v":0.01},{"c":8,"r":1,"v":-0.01},{"c":9,"r":1,"v":0.01},{"c":1,"r":2,"v":0.015},{"c":2,"r":2,"v":0.025},{"c":3,"r":2,"v":0.01},{"c":5,"r":2,"v":-0.015},{"c":6,"r":2,"v":-0.02},{"c":7,"r":2,"v":-0.015},{"c":1,"r":3,"v":0.01},{"c":2,"r":3,"v":0.025},{"c":3,"r":3,"v":0.015},{"c":5,"r":3,"v":-0.01},{"c":7,"r":3,"v":-0.015},{"c":8,"r":3,"v":-0.02},{"c":1,"r":4,"v":0.01},{"c":3,"r":4,"v":0.005},{"c":4,"r":4,"v":-0.01},{"c":8,"r":4,"v":-0.005},{"c":1,"r":5,"v":-0.005},{"c":2,"r":5,"v":0.01},{"c":6,"r":5,"v":-0.01},{"c":8,"r":5,"v":-0.015},{"c":0,"r":6,"v":0.01},{"c":3,"r":6,"v":0.01},{"c":5,"r":6,"v":-0.015},{"c":9,"r":6,"v":-0.01},{"c":1,"r":7,"v":-0.02},{"c":2,"r":7,"v":-0.03},{"c":3,"r":7,"v":-0.02},{"c":8,"r":7,"v":-0.015},{"c":2,"r":8,"v":-0.015},{"c":3,"r":8,"v":-0.02},{"c":4,"r":8,"v":-0.01},{"c":2,"r":9,"v":-0.01},{"c":4,"r":9,"v":-0.01},{"c":8,"r":9,"v":-0.01},{"c":3,"r":11,"v":-0.005},{"c":4,"r":11,"v":-0.005},{"c":9,"r":11,"v":0.005}],
"n7":[{"c":2,"r":0,"v":-0.005},{"c":1,"r":1,"v":-0.01},{"c":2,"r":1,"v":-0.025},{"c":3,"r":1,"v":-0.02},{"c":0,"r":2,"v":0.01},{"c":1,"r":2,"v":-0.005},{"c":2,"r":2,"v":-0.015},{"c":3,"r":2,"v":-0.01},{"c":5,"r":2,"v":0.005},{"c":6,"r":2,"v":0.005},{"c":9,"r":2,"v":0.005},{"c":2,"r":3,"v":-0.005},{"c":6,"r":3,"v":-0.005},{"c":7,"r":3,"v":-0.01},{"c":8,"r":3,"v":-0.01},{"c":9,"r":3,"v":-0.015},{"c":1,"r":4,"v":-0.005},{"c":2,"r":4,"v":-0.005},{"c":7,"r":4,"v":-0.01},{"c":8,"r":4,"v":-0.015},{"c":9,"r":4,"v":-0.02},{"c":0,"r":5,"v":0.01},{"c":1,"r":5,"v":0.015},{"c":2,"r":5,"v":0.03},{"c":3,"r":5,"v":0.03},{"c":4,"r":5,"v":0.005},{"c":5,"r":5,"v":0.005},{"c":0,"r":6,"v":0.01},{"c":1,"r":6,"v":0.01},{"c":2,"r":6,"v":0.01}],
"n8":[{"c":2,"r":1,"v":-0.005},{"c":3,"r":1,"v":-0.01},{"c":1,"r":2,"v":-0.02},{"c":2,"r":2,"v":-0.01},{"c":3,"r":2,"v":-0.005},{"c":4,"r":2,"v":-0.015},{"c":9,"r":2,"v":-0.01},{"c":0,"r":3,"v":-0.015},{"c":1,"r":3,"v":-0.01},{"c":2,"r":3,"v":-0.01},{"c":3,"r":3,"v":-0.01},{"c":4,"r":3,"v":-0.025},{"c":5,"r":3,"v":-0.005},{"c":6,"r":3,"v":0.01},{"c":7,"r":3,"v":0.02},{"c":8,"r":3,"v":-0.005},{"c":9,"r":3,"v":-0.015},{"c":0,"r":4,"v":-0.015},{"c":1,"r":4,"v":-0.015},{"c":2,"r":4,"v":-0.015},{"c":3,"r":4,"v":-0.015},{"c":4,"r":4,"v":-0.025},{"c":5,"r":4,"v":-0.005},{"c":7,"r":4,"v":0.01},{"c":8,"r":4,"v":-0.01},{"c":9,"r":4,"v":-0.02},{"c":0,"r":5,"v":-0.01},{"c":1,"r":5,"v":0.005},{"c":2,"r":5,"v":0.01},{"c":3,"r":5,"v":0.005},{"c":4,"r":5,"v":-0.01},{"c":9,"r":5,"v":-0.005},{"c":1,"r":6,"v":0.005},{"c":2,"r":6,"v":0.01}],
"o1":[{"c":1,"r":1,"v":0.015},{"c":2,"r":1,"v":0.02},{"c":3,"r":1,"v":0.015},{"c":0,"r":2,"v":0.04},{"c":1,"r":2,"v":0.05},{"c":2,"r":2,"v":0.05},{"c":3,"r":2,"v":0.04},{"c":4,"r":2,"v":0.03},{"c":5,"r":2,"v":0.01},{"c":8,"r":2,"v":0.01},{"c":9,"r":2,"v":0.02},{"c":0,"r":3,"v":0.07},{"c":1,"r":3,"v":0.07},{"c":2,"r":3,"v":0.065},{"c":3,"r":3,"v":0.07},{"c":4,"r":3,"v":0.065},{"c":5,"r":3,"v":0.02},{"c":7,"r":3,"v":0.01},{"c":8,"r":3,"v":0.03},{"c":9,"r":3,"v":0.035},{"c":0,"r":4,"v":0.07},{"c":1,"r":4,"v":0.06},{"c":2,"r":4,"v":0.05},{"c":3,"r":4,"v":0.06},{"c":4,"r":4,"v":0.07},{"c":5,"r":4,"v":0.02},{"c":8,"r":4,"v":0.02},{"c":9,"r":4,"v":0.035},{"c":0,"r":5,"v":0.04},{"c":1,"r":5,"v":0.05},{"c":2,"r":5,"v":0.05},{"c":3,"r":5,"v":0.05},{"c":4,"r":5,"v":0.03},{"c":2,"r":6,"v":0.01},{"c":2,"r":7,"v":0.01},{"c":5,"r":8,"v":0.02},{"c":6,"r":8,"v":0.01}],
"o2":[{"c":3,"r":1,"v":0.02},{"c":4,"r":1,"v":0.01},{"c":0,"r":2,"v":0.05},{"c":1,"r":2,"v":0.05},{"c":2,"r":2,"v":0.05},{"c":3,"r":2,"v":0.06},{"c":4,"r":2,"v":0.04},{"c":5,"r":2,"v":0.01},{"c":8,"r":2,"v":0.01},{"c":0,"r":3,"v":0.07},{"c":1,"r":3,"v":0.06},{"c":2,"r":3,"v":0.06},{"c":3,"r":3,"v":0.06},{"c":4,"r":3,"v":0.08},{"c":5,"r":3,"v":0.04},{"c":6,"r":3,"v":0.02},{"c":7,"r":3,"v":0.03},{"c":8,"r":3,"v":0.03},{"c":9,"r":3,"v":0.04},{"c":0,"r":4,"v":0.06},{"c":1,"r":4,"v":0.06},{"c":2,"r":4,"v":0.06},{"c":3,"r":4,"v":0.08},{"c":4,"r":4,"v":0.1},{"c":5,"r":4,"v":0.05},{"c":6,"r":4,"v":0.03},{"c":7,"r":4,"v":0.03},{"c":8,"r":4,"v":0.02},{"c":9,"r":4,"v":0.03},{"c":0,"r":5,"v":0.04},{"c":1,"r":5,"v":0.05},{"c":2,"r":5,"v":0.07},{"c":3,"r":5,"v":0.07},{"c":4,"r":5,"v":0.06},{"c":5,"r":5,"v":0.04},{"c":6,"r":5,"v":0.03},{"c":7,"r":5,"v":0.02},{"c":8,"r":5,"v":0.01},{"c":0,"r":6,"v":0.01},{"c":1,"r":6,"v":0.01},{"c":2,"r":6,"v":0.03},{"c":3,"r":6,"v":0.04},{"c":4,"r":6,"v":0.04},{"c":5,"r":6,"v":0.03},{"c":6,"r":6,"v":0.04},{"c":7,"r":6,"v":0.04},{"c":8,"r":6,"v":0.03},{"c":9,"r":6,"v":0.01},{"c":1,"r":7,"v":0.02},{"c":2,"r":7,"v":0.03},{"c":3,"r":7,"v":0.02},{"c":4,"r":7,"v":0.02},{"c":5,"r":7,"v":0.03},{"c":6,"r":7,"v":0.03},{"c":7,"r":7,"v":0.03},{"c":8,"r":7,"v":0.01},{"c":9,"r":7,"v":0.03},{"c":1,"r":8,"v":0.02},{"c":2,"r":8,"v":0.03},{"c":3,"r":8,"v":0.02},{"c":6,"r":8,"v":0.01},{"c":7,"r":8,"v":0.01},{"c":1,"r":9,"v":0.02},{"c":2,"r":9,"v":0.03},{"c":3,"r":9,"v":0.02},{"c":7,"r":9,"v":0.01},{"c":1,"r":10,"v":0.01},{"c":2,"r":10,"v":0.01}],
"o3":[{"c":0,"r":1,"v":0.015},{"c":1,"r":1,"v":0.02},{"c":2,"r":1,"v":0.02},{"c":3,"r":1,"v":0.01},{"c":0,"r":2,"v":0.045},{"c":1,"r":2,"v":0.05},{"c":2,"r":2,"v":0.05},{"c":3,"r":2,"v":0.04},{"c":4,"r":2,"v":0.025},{"c":8,"r":2,"v":0.005},{"c":9,"r":2,"v":0.01},{"c":0,"r":3,"v":0.075},{"c":1,"r":3,"v":0.075},{"c":2,"r":3,"v":0.07},{"c":3,"r":3,"v":0.065},{"c":4,"r":3,"v":0.05},{"c":5,"r":3,"v":0.015},{"c":8,"r":3,"v":0.015},{"c":9,"r":3,"v":0.02},{"c":0,"r":4,"v":0.075},{"c":1,"r":4,"v":0.08},{"c":2,"r":4,"v":0.075},{"c":3,"r":4,"v":0.07},{"c":4,"r":4,"v":0.05},{"c":5,"r":4,"v":0.015},{"c":9,"r":4,"v":0.02},{"c":0,"r":5,"v":0.05},{"c":1,"r":5,"v":0.06},{"c":2,"r":5,"v":0.06},{"c":3,"r":5,"v":0.05},{"c":4,"r":5,"v":0.025},{"c":0,"r":6,"v":0.005},{"c":1,"r":6,"v":0.015},{"c":2,"r":6,"v":0.015},{"c":3,"r":6,"v":0.01}],
"o4":[{"c":0,"r":0,"v":0.005},{"c":1,"r":0,"v":0.01},{"c":2,"r":0,"v":0.01},{"c":0,"r":1,"v":0.025},{"c":1,"r":1,"v":0.03},{"c":2,"r":1,"v":0.03},{"c":3,"r":1,"v":0.02},{"c":0,"r":2,"v":0.06},{"c":1,"r":2,"v":0.07},{"c":2,"r":2,"v":0.07},{"c":3,"r":2,"v":0.065},{"c":4,"r":2,"v":0.04},{"c":8,"r":2,"v":0.01},{"c":9,"r":2,"v":0.03},{"c":0,"r":3,"v":0.09},{"c":1,"r":3,"v":0.1},{"c":2,"r":3,"v":0.105},{"c":3,"r":3,"v":0.11},{"c":4,"r":3,"v":0.085},{"c":5,"r":3,"v":0.02},{"c":7,"r":3,"v":0.01},{"c":8,"r":3,"v":0.04},{"c":9,"r":3,"v":0.08},{"c":0,"r":4,"v":0.09},{"c":1,"r":4,"v":0.1},{"c":2,"r":4,"v":0.11},{"c":3,"r":4,"v":0.115},{"c":4,"r":4,"v":0.085},{"c":5,"r":4,"v":0.015},{"c":8,"r":4,"v":0.02},{"c":9,"r":4,"v":0.09},{"c":0,"r":5,"v":0.07},{"c":1,"r":5,"v":0.09},{"c":2,"r":5,"v":0.095},{"c":3,"r":5,"v":0.085},{"c":4,"r":5,"v":0.05},{"c":9,"r":5,"v":0.02},{"c":0,"r":6,"v":0.015},{"c":1,"r":6,"v":0.03},{"c":2,"r":6,"v":0.035},{"c":3,"r":6,"v":0.02}],
"o5":[{"c":0,"r":2,"v":0.02},{"c":1,"r":2,"v":0.02},{"c":2,"r":2,"v":0.02},{"c":3,"r":2,"v":0.015},{"c":4,"r":2,"v":0.01},{"c":0,"r":3,"v":0.03},{"c":1,"r":3,"v":0.03},{"c":2,"r":3,"v":0.025},{"c":3,"r":3,"v":0.03},{"c":4,"r":3,"v":0.03},{"c":5,"r":3,"v":0.01},{"c":9,"r":3,"v":0.015},{"c":0,"r":4,"v":0.025},{"c":1,"r":4,"v":0.025},{"c":2,"r":4,"v":0.025},{"c":3,"r":4,"v":0.025},{"c":4,"r":4,"v":0.02},{"c":9,"r":4,"v":0.015},{"c":0,"r":5,"v":0.01},{"c":1,"r":5,"v":0.015},{"c":2,"r":5,"v":0.015},{"c":3,"r":5,"v":0.01},{"c":8,"r":6,"v":0.01},{"c":8,"r":7,"v":0.01},{"c":3,"r":8,"v":0.01},{"c":7,"r":8,"v":0.015},{"c":7,"r":9,"v":0.01}],
"o6":[{"c":0,"r":2,"v":0.02},{"c":1,"r":2,"v":0.02},{"c":2,"r":2,"v":0.02},{"c":3,"r":2,"v":0.015},{"c":8,"r":2,"v":0.01},{"c":9,"r":2,"v":0.01},{"c":0,"r":3,"v":0.03},{"c":1,"r":3,"v":0.03},{"c":2,"r":3,"v":0.025},{"c":3,"r":3,"v":0.025},{"c":4,"r":3,"v":0.015},{"c":8,"r":3,"v":0.02},{"c":9,"r":3,"v":0.02},{"c":0,"r":4,"v":0.03},{"c":1,"r":4,"v":0.025},{"c":2,"r":4,"v":0.02},{"c":3,"r":4,"v":0.02},{"c":8,"r":4,"v":0.02},{"c":9,"r":4,"v":0.03},{"c":0,"r":5,"v":0.015},{"c":1,"r":5,"v":0.02},{"c":2,"r":5,"v":0.02},{"c":3,"r":5,"v":0.015},{"c":6,"r":6,"v":0.01},{"c":7,"r":6,"v":0.015},{"c":1,"r":7,"v":0.01},{"c":5,"r":7,"v":0.01},{"c":6,"r":7,"v":0.015},{"c":7,"r":7,"v":0.025},{"c":6,"r":8,"v":0.01},{"c":7,"r":8,"v":0.015},{"c":2,"r":9,"v":0.01}],
"o7":[{"c":0,"r":2,"v":0.02},{"c":1,"r":2,"v":0.025},{"c":2,"r":2,"v":0.025},{"c":3,"r":2,"v":0.015},{"c":8,"r":2,"v":0.01},{"c":9,"r":2,"v":0.01},{"c":0,"r":3,"v":0.035},{"c":1,"r":3,"v":0.035},{"c":2,"r":3,"v":0.035},{"c":3,"r":3,"v":0.03},{"c":4,"r":3,"v":0.015},{"c":8,"r":3,"v":0.015},{"c":9,"r":3,"v":0.02},{"c":0,"r":4,"v":0.035},{"c":1,"r":4,"v":0.04},{"c":2,"r":4,"v":0.035},{"c":3,"r":4,"v":0.03},{"c":4,"r":4,"v":0.015},{"c":8,"r":4,"v":0.01},{"c":9,"r":4,"v":0.02},{"c":0,"r":5,"v":0.025},{"c":1,"r":5,"v":0.03},{"c":2,"r":5,"v":0.03},{"c":3,"r":5,"v":0.02},{"c":1,"r":6,"v":0.01},{"c":2,"r":6,"v":0.01}],
"o8":[{"c":0,"r":2,"v":0.025},{"c":1,"r":2,"v":0.03},{"c":2,"r":2,"v":0.03},{"c":3,"r":2,"v":0.02},{"c":8,"r":2,"v":0.01},{"c":9,"r":2,"v":0.015},{"c":0,"r":3,"v":0.04},{"c":1,"r":3,"v":0.04},{"c":2,"r":3,"v":0.04},{"c":3,"r":3,"v":0.035},{"c":4,"r":3,"v":0.015},{"c":8,"r":3,"v":0.015},{"c":9,"r":3,"v":0.03},{"c":0,"r":4,"v":0.04},{"c":1,"r":4,"v":0.04},{"c":2,"r":4,"v":0.04},{"c":3,"r":4,"v":0.035},{"c":4,"r":4,"v":0.015},{"c":8,"r":4,"v":0.01},{"c":9,"r":4,"v":0.03},{"c":0,"r":5,"v":0.025},{"c":1,"r":5,"v":0.03},{"c":2,"r":5,"v":0.03},{"c":3,"r":5,"v":0.025},{"c":1,"r":6,"v":0.01},{"c":2,"r":6,"v":0.015},{"c":3,"r":6,"v":0.01}],
"q1":[{"c":0,"r":0,"v":-0.01},{"c":1,"r":0,"v":-0.005},{"c":6,"r":0,"v":0.005},{"c":0,"r":1,"v":-0.015},{"c":1,"r":1,"v":-0.01},{"c":9,"r":1,"v":-0.01},{"c":1,"r":2,"v":0.02},{"c":2,"r":2,"v":0.025},{"c":3,"r":2,"v":0.02},{"c":5,"r":2,"v":-0.01},{"c":6,"r":2,"v":-0.02},{"c":9,"r":2,"v":-0.005},{"c":0,"r":3,"v":0.04},{"c":1,"r":3,"v":0.045},{"c":2,"r":3,"v":0.04},{"c":3,"r":3,"v":0.045},{"c":4,"r":3,"v":0.03},{"c":6,"r":3,"v":-0.01},{"c":9,"r":3,"v":0.015},{"c":0,"r":4,"v":0.045},{"c":1,"r":4,"v":0.035},{"c":2,"r":4,"v":0.02},{"c":3,"r":4,"v":0.035},{"c":4,"r":4,"v":0.04},{"c":6,"r":4,"v":-0.01},{"c":7,"r":4,"v":-0.005},{"c":9,"r":4,"v":0.025},{"c":0,"r":5,"v":0.02},{"c":1,"r":5,"v":0.025},{"c":2,"r":5,"v":0.015},{"c":3,"r":5,"v":0.025},{"c":4,"r":5,"v":0.01},{"c":6,"r":5,"v":0.005},{"c":7,"r":5,"v":-0.015},{"c":8,"r":5,"v":-0.02},{"c":9,"r":5,"v":-0.005},{"c":0,"r":6,"v":-0.01},{"c":2,"r":6,"v":0.005},{"c":7,"r":6,"v":-0.01},{"c":8,"r":6,"v":-0.02},{"c":9,"r":6,"v":-0.01},{"c":2,"r":7,"v":0.01},{"c":5,"r":8,"v":0.02},{"c":6,"r":8,"v":0.015},{"c":3,"r":9,"v":0.005},{"c":8,"r":9,"v":-0.005},{"c":1,"r":11,"v":-0.005},{"c":2,"r":11,"v":-0.005}],
"q2":[{"c":0,"r":0,"v":-0.01},{"c":1,"r":0,"v":-0.005},{"c":0,"r":1,"v":-0.025},{"c":1,"r":1,"v":-0.015},{"c":4,"r":1,"v":0.005},{"c":8,"r":1,"v":-0.015},{"c":9,"r":1,"v":-0.02},{"c":0,"r":2,"v":0.025},{"c":1,"r":2,"v":0.03},{"c":2,"r":2,"v":0.03},{"c":3,"r":2,"v":0.025},{"c":7,"r":2,"v":-0.01},{"c":8,"r":2,"v":-0.015},{"c":9,"r":2,"v":-0.01},{"c":0,"r":3,"v":0.04},{"c":1,"r":3,"v":0.045},{"c":2,"r":3,"v":0.03},{"c":3,"r":3,"v":0.045},{"c":4,"r":3,"v":0.04},{"c":6,"r":3,"v":-0.015},{"c":9,"r":3,"v":0.015},{"c":0,"r":4,"v":0.03},{"c":1,"r":4,"v":0.03},{"c":2,"r":4,"v":0.03},{"c":3,"r":4,"v":0.05},{"c":4,"r":4,"v":0.08},{"c":5,"r":4,"v":0.02},{"c":6,"r":4,"v":0.015},{"c":7,"r":4,"v":0.02},{"c":8,"r":4,"v":0.02},{"c":9,"r":4,"v":0.02},{"c":0,"r":5,"v":0.025},{"c":1,"r":5,"v":0.05},{"c":2,"r":5,"v":0.055},{"c":3,"r":5,"v":0.05},{"c":4,"r":5,"v":0.04},{"c":5,"r":5,"v":0.025},{"c":6,"r":5,"v":0.025},{"c":7,"r":5,"v":0.005},{"c":0,"r":6,"v":0.015},{"c":1,"r":6,"v":0.03},{"c":2,"r":6,"v":0.03},{"c":3,"r":6,"v":0.02},{"c":4,"r":6,"v":0.015},{"c":5,"r":6,"v":0.025},{"c":6,"r":6,"v":0.015},{"c":9,"r":6,"v":0.02},{"c":0,"r":7,"v":0.015},{"c":1,"r":7,"v":0.03},{"c":2,"r":7,"v":0.03},{"c":3,"r":7,"v":0.015},{"c":4,"r":7,"v":0.015},{"c":5,"r":7,"v":0.015},{"c":6,"r":7,"v":0.015},{"c":8,"r":7,"v":-0.015},{"c":0,"r":8,"v":-0.01},{"c":1,"r":8,"v":0.025},{"c":2,"r":8,"v":0.035},{"c":3,"r":8,"v":0.01},{"c":5,"r":8,"v":-0.015},{"c":6,"r":8,"v":-0.01},{"c":8,"r":8,"v":-0.02},{"c":9,"r":8,"v":-0.02},{"c":0,"r":9,"v":-0.015},{"c":1,"r":9,"v":0.01},{"c":2,"r":9,"v":0.015},{"c":4,"r":9,"v":-0.01},{"c":5,"r":9,"v":-0.03},{"c":6,"r":9,"v":-0.02},{"c":8,"r":9,"v":-0.01},{"c":9,"r":9,"v":-0.025},{"c":5,"r":10,"v":-0.01},{"c":4,"r":10,"v":-0.005},{"c":1,"r":11,"v":-0.005},{"c":2,"r":11,"v":-0.005}],
"q3":[{"c":0,"r":1,"v":0.01},{"c":1,"r":1,"v":0.015},{"c":2,"r":1,"v":0.01},{"c":3,"r":1,"v":0.005},{"c":0,"r":2,"v":0.03},{"c":1,"r":2,"v":0.03},{"c":2,"r":2,"v":0.03},{"c":3,"r":2,"v":0.02},{"c":4,"r":2,"v":0.005},{"c":0,"r":3,"v":0.045},{"c":1,"r":3,"v":0.05},{"c":2,"r":3,"v":0.05},{"c":3,"r":3,"v":0.04},{"c":4,"r":3,"v":0.015},{"c":6,"r":3,"v":0.005},{"c":7,"r":3,"v":0.005},{"c":8,"r":3,"v":0.01},{"c":9,"r":3,"v":0.01},{"c":0,"r":4,"v":0.05},{"c":1,"r":4,"v":0.05},{"c":2,"r":4,"v":0.045},{"c":3,"r":4,"v":0.035},{"c":4,"r":4,"v":0.01},{"c":8,"r":4,"v":0.01},{"c":9,"r":4,"v":0.015},{"c":0,"r":5,"v":0.03},{"c":1,"r":5,"v":0.04},{"c":2,"r":5,"v":0.04},{"c":3,"r":5,"v":0.03},{"c":4,"r":5,"v":0.005},{"c":0,"r":6,"v":0.005},{"c":1,"r":6,"v":0.01},{"c":2,"r":6,"v":0.01}],
"q4":[{"c":0,"r":1,"v":0.01},{"c":1,"r":1,"v":0.015},{"c":2,"r":1,"v":0.015},{"c":3,"r":1,"v":0.01},{"c":9,"r":1,"v":0.005},{"c":0,"r":2,"v":0.03},{"c":1,"r":2,"v":0.04},{"c":2,"r":2,"v":0.04},{"c":3,"r":2,"v":0.035},{"c":4,"r":2,"v":0.015},{"c":9,"r":2,"v":0.015},{"c":0,"r":3,"v":0.055},{"c":1,"r":3,"v":0.06},{"c":2,"r":3,"v":0.065},{"c":3,"r":3,"v":0.065},{"c":4,"r":3,"v":0.045},{"c":5,"r":3,"v":0.01},{"c":8,"r":3,"v":0.015},{"c":9,"r":3,"v":0.05},{"c":0,"r":4,"v":0.07},{"c":1,"r":4,"v":0.075},{"c":2,"r":4,"v":0.08},{"c":3,"r":4,"v":0.08},{"c":4,"r":4,"v":0.055},{"c":5,"r":4,"v":0.01},{"c":8,"r":4,"v":0.02},{"c":9,"r":4,"v":0.08},{"c":0,"r":5,"v":0.045},{"c":1,"r":5,"v":0.06},{"c":2,"r":5,"v":0.065},{"c":3,"r":5,"v":0.06},{"c":4,"r":5,"v":0.025},{"c":9,"r":5,"v":0.015},{"c":0,"r":6,"v":0.005},{"c":1,"r":6,"v":0.015},{"c":2,"r":6,"v":0.015},{"c":3,"r":6,"v":0.01}],
"q5":[{"c":1,"r":1,"v":-0.005},{"c":2,"r":1,"v":-0.005},{"c":6,"r":1,"v":0.005},{"c":0,"r":2,"v":-0.005},{"c":2,"r":2,"v":-0.015},{"c":3,"r":2,"v":-0.01},{"c":7,"r":2,"v":-0.01},{"c":8,"r":2,"v":-0.015},{"c":0,"r":3,"v":0.01},{"c":2,"r":3,"v":0.01},{"c":3,"r":3,"v":0.015},{"c":5,"r":3,"v":0.005},{"c":7,"r":3,"v":-0.005},{"c":8,"r":3,"v":-0.015},{"c":9,"r":3,"v":-0.005},{"c":0,"r":4,"v":-0.015},{"c":1,"r":4,"v":-0.005},{"c":2,"r":4,"v":0.01},{"c":4,"r":4,"v":-0.01},{"c":5,"r":4,"v":-0.01},{"c":8,"r":4,"v":-0.01},{"c":9,"r":4,"v":-0.015},{"c":1,"r":5,"v":-0.015},{"c":2,"r":5,"v":-0.015},{"c":3,"r":5,"v":-0.01},{"c":6,"r":5,"v":-0.01},{"c":8,"r":5,"v":0.01},{"c":0,"r":6,"v":0.005},{"c":1,"r":6,"v":-0.01},{"c":3,"r":6,"v":-0.005},{"c":6,"r":6,"v":-0.01},{"c":8,"r":6,"v":0.015},{"c":1,"r":7,"v":-0.005},{"c":2,"r":7,"v":0.01},{"c":4,"r":7,"v":0.01},{"c":7,"r":7,"v":0.015},{"c":9,"r":7,"v":-0.005},{"c":0,"r":8,"v":0.01},{"c":1,"r":8,"v":-0.005},{"c":7,"r":8,"v":0.01},{"c":2,"r":10,"v":-0.005},{"c":3,"r":11,"v":-0.005}],
"q6":[{"c":1,"r":0,"v":-0.005},{"c":2,"r":1,"v":-0.01},{"c":1,"r":1,"v":-0.015},{"c":3,"r":1,"v":-0.015},{"c":4,"r":1,"v":-0.005},{"c":8,"r":1,"v":0.01},{"c":1,"r":2,"v":-0.005},{"c":2,"r":2,"v":-0.015},{"c":3,"r":2,"v":-0.01},{"c":8,"r":2,"v":0.01},{"c":2,"r":3,"v":-0.015},{"c":5,"r":3,"v":-0.005},{"c":9,"r":3,"v":0.01},{"c":0,"r":4,"v":0.005},{"c":2,"r":4,"v":-0.005},{"c":7,"r":4,"v":-0.01},{"c":9,"r":4,"v":0.01},{"c":2,"r":5,"v":-0.01},{"c":3,"r":5,"v":-0.01},{"c":8,"r":5,"v":-0.01},{"c":9,"r":5,"v":-0.005},{"c":0,"r":6,"v":0.01},{"c":1,"r":6,"v":0.005},{"c":5,"r":6,"v":0.01},{"c":6,"r":6,"v":0.015},{"c":7,"r":6,"v":0.02},{"c":0,"r":7,"v":0.01},{"c":1,"r":7,"v":0.01},{"c":2,"r":7,"v":0.005},{"c":5,"r":7,"v":0.01},{"c":6,"r":7,"v":0.015},{"c":7,"r":7,"v":0.015},{"c":1,"r":8,"v":0.01},{"c":2,"r":8,"v":0.01},{"c":3,"r":8,"v":0.01},{"c":4,"r":8,"v":0.005},{"c":8,"r":8,"v":-0.005},{"c":1,"r":9,"v":0.005},{"c":2,"r":9,"v":0.01},{"c":3,"r":9,"v":0.01},{"c":2,"r":10,"v":0.005},{"c":3,"r":10,"v":0.005}],
"q7":[{"c":1,"r":2,"v":0.003},{"c":2,"r":2,"v":0.003},{"c":1,"r":3,"v":0.004},{"c":2,"r":3,"v":0.005},{"c":3,"r":3,"v":0.004},{"c":8,"r":3,"v":0.002},{"c":0,"r":4,"v":0.004},{"c":1,"r":4,"v":0.005},{"c":2,"r":4,"v":0.005},{"c":3,"r":4,"v":0.003},{"c":0,"r":5,"v":0.003},{"c":1,"r":5,"v":0.004},{"c":2,"r":5,"v":0.003}],
"q8":[{"c":0,"r":3,"v":0.008},{"c":1,"r":3,"v":0.01},{"c":2,"r":3,"v":0.01},{"c":3,"r":3,"v":0.005},{"c":9,"r":3,"v":0.006},{"c":0,"r":4,"v":0.01},{"c":1,"r":4,"v":0.012},{"c":2,"r":4,"v":0.012},{"c":3,"r":4,"v":0.008},{"c":8,"r":4,"v":0.003},{"c":9,"r":4,"v":0.008},{"c":0,"r":5,"v":0.005},{"c":1,"r":5,"v":0.008},{"c":2,"r":5,"v":0.008},{"c":3,"r":5,"v":0.005}]
},
"vconcat":[
{"width":2600,"height":1,"data":{"values":[]},"mark":"text"},
{"bounds":"flush","spacing":0,"hconcat":[{"width":489,"height":98,"data":{"values":[]},"mark":"text"},{"width":2067,"height":98,"data":{"values":[{"t":"Input"}]},"mark":{"type":"text","fontWeight":"bold","dy":4},"encoding":{"text":{"field":"t"}}}]},
{"bounds":"flush","spacing":0,"hconcat":[{"width":489,"height":2,"data":{"values":[]},"mark":"text"},{"width":2067,"height":2,"data":{"values":[{}]},"mark":{"type":"rect","color":"black"},"encoding":{}}]},
{"bounds":"flush","spacing":0,"hconcat":[
{"width":468,"height":130,"data":{"values":[]},"mark":"text"},
{"width":62,"height":130,"data":{"values":[{"t":"(b)"}]},"mark":{"type":"text","dy":-5},"encoding":{"text":{"field":"t"}}},
{"width":270,"height":130,"data":{"values":[]},"mark":"text"},
{"width":340,"height":130,"data":{"values":[{"t":"Dilatation Heat"}]},"mark":{"type":"text","dy":-5},"encoding":{"text":{"field":"t"}}},
{"width":430,"height":130,"data":{"values":[]},"mark":"text"},
{"width":68,"height":130,"data":{"values":[{"t":"(c)"}]},"mark":{"type":"text","dy":-5},"encoding":{"text":{"field":"t"}}},
{"width":42,"height":130,"data":{"values":[]},"mark":"text"},
{"width":750,"height":130,"data":{"values":[{"t":"Dilatation & Distensibility Heat"}]},"mark":{"type":"text","dy":-5},"encoding":{"text":{"field":"t"}}}
]},
{"bounds":"flush","spacing":0,"resolve":{"scale":{"color":"independent"},"legend":{"color":"independent"}},"hconcat":[
{"width":770,"height":312,"data":{"values":[]},"mark":"text"},
{"width":46,"height":312,"data":{"values":[{"t":"d"}]},"mark":{"type":"text","font":"DejaVu Serif","fontStyle":"italic","fontSize":42,"angle":270,"dy":-1},"encoding":{"text":{"field":"t"}}},
{"width":20,"height":312,"data":{"values":[]},"mark":"text"},
{"width":250,"height":312,"view":{"fill":"#00007f","stroke":"#222","strokeWidth":3},"data":{"name":"i1"},"mark":"rect","encoding":{"x":{"field":"c","type":"ordinal","scale":{"domain":[0,1,2,3,4,5,6,7,8,9]}},"y":{"field":"r","type":"ordinal","scale":{"domain":[0,1,2,3,4,5,6,7,8,9,10,11,12]}},"color":{"field":"v","type":"quantitative","scale":{"domain":[1,1.508],"interpolate":"rgb","range":["#00007f","#0000ff","#007fff","#00ffff","#7fff7f","#ffff00","#ff7f00","#ff0000","#7f0000"]},"legend":{"title":null,"offset":20,"labelOffset":14,"gradientLength":312,"values":[1,1.2,1.4],"labelExpr":"''+datum.value","encode":{"labels":{"update":{"baseline":{"value":"middle"}}}}}}}},
{"width":495,"height":312,"data":{"values":[]},"mark":"text"},
{"width":46,"height":312,"data":{"values":[{"t":"d"}]},"mark":{"type":"text","font":"DejaVu Serif","fontStyle":"italic","fontSize":42,"angle":270,"dy":-1},"encoding":{"text":{"field":"t"}}},
{"width":20,"height":312,"data":{"values":[]},"mark":"text"},
{"width":250,"height":312,"view":{"fill":"#00007f","stroke":"#222","strokeWidth":3},"data":{"name":"i1"},"mark":"rect","encoding":{"x":{"field":"c","type":"ordinal","scale":{"domain":[0,1,2,3,4,5,6,7,8,9]}},"y":{"field":"r","type":"ordinal","scale":{"domain":[0,1,2,3,4,5,6,7,8,9,10,11,12]}},"color":{"field":"v","type":"quantitative","scale":{"domain":[1,1.508],"interpolate":"rgb","range":["#00007f","#0000ff","#007fff","#00ffff","#7fff7f","#ffff00","#ff7f00","#ff0000","#7f0000"]},"legend":{"title":null,"offset":20,"labelOffset":14,"gradientLength":312,"values":[1,1.2,1.4],"labelExpr":"''+datum.value","encode":{"labels":{"update":{"baseline":{"value":"middle"}}}}}}}},
{"width":173,"height":312,"data":{"values":[]},"mark":"text"},
{"width":46,"height":312,"data":{"values":[{"t":"\ud835\udc9f"}]},"mark":{"type":"text","font":"DejaVu Serif","fontStyle":"italic","fontSize":40,"angle":270,"dy":-1},"encoding":{"text":{"field":"t"}}},
{"width":20,"height":312,"data":{"values":[]},"mark":"text"},
{"width":250,"height":312,"view":{"fill":"#ff0000","stroke":"#222","strokeWidth":3},"data":{"name":"i3"},"mark":"rect","encoding":{"x":{"field":"c","type":"ordinal","scale":{"domain":[0,1,2,3,4,5,6,7,8,9]}},"y":{"field":"r","type":"ordinal","scale":{"domain":[0,1,2,3,4,5,6,7,8,9,10,11,12]}},"color":{"field":"v","type":"quantitative","scale":{"domain":[0.03,0.07],"interpolate":"rgb","range":["#00007f","#0000ff","#007fff","#00ffff","#7fff7f","#ffff00","#ff7f00","#ff0000","#7f0000"]},"legend":{"title":null,"offset":20,"labelOffset":14,"gradientLength":312,"values":[0.03,0.04,0.05,0.06,0.07],"labelExpr":"''+datum.value","encode":{"labels":{"update":{"baseline":{"value":"middle"}}}}}}}}
]},
{"bounds":"flush","spacing":0,"hconcat":[{"width":36,"height":95,"data":{"values":[]},"mark":"text"},{"width":396,"height":95,"data":{"values":[{"t":"Actual"}]},"mark":{"type":"text","fontWeight":"bold","dy":4},"encoding":{"text":{"field":"t"}}},{"width":57,"height":95,"data":{"values":[]},"mark":"text"},{"width":2067,"height":95,"data":{"values":[{"t":"Predicted"}]},"mark":{"type":"text","fontWeight":"bold","dy":4},"encoding":{"text":{"field":"t"}}}]},
{"bounds":"flush","spacing":0,"hconcat":[{"width":36,"height":2,"data":{"values":[]},"mark":"text"},{"width":396,"height":2,"data":{"values":[{}]},"mark":{"type":"rect","color":"black"},"encoding":{}},{"width":57,"height":2,"data":{"values":[]},"mark":"text"},{"width":2067,"height":2,"data":{"values":[{}]},"mark":{"type":"rect","color":"black"},"encoding":{}}]},
{"spacing":0,"resolve":{"scale":{"color":"independent"},"legend":{"color":"independent"}},"hconcat":[
{"spacing":0,"resolve":{"scale":{"color":"independent"},"legend":{"color":"independent"}},"vconcat":[
{"width":428,"height":139,"data":{"values":[{"t":"(a)"}]},"mark":{"type":"text","align":"left","dx":-180,"dy":15},"encoding":{"text":{"field":"t"}}},
{"width":428,"height":148,"data":{"values":[{"t":"Eln Fiber Integrity"}]},"mark":{"type":"text","align":"left","dx":-180,"dy":-22},"encoding":{"text":{"field":"t"}}},
{"bounds":"flush","spacing":0,"resolve":{"scale":{"color":"independent"}},"hconcat":[
{"width":110,"height":312,"data":{"values":[{}]},"layer":[{"mark":{"type":"text","text":"\u03d1","font":"DejaVu Serif","fontStyle":"italic","fontSize":42,"angle":270,"dx":-12,"dy":12}},{"mark":{"type":"text","text":"c","font":"DejaVu Serif","fontStyle":"italic","fontSize":28,"angle":270,"dx":12,"dy":20}},{"mark":{"type":"text","text":"e","font":"DejaVu Serif","fontStyle":"italic","fontSize":22,"angle":270,"dx":27,"dy":6}}]},
{"width":250,"height":312,"view":{"fill":"#0d0887","stroke":"#222","strokeWidth":3},"data":{"name":"a1"},"mark":"rect","encoding":{"x":{"field":"c","type":"ordinal","scale":{"domain":[0,1,2,3,4,5,6,7,8,9]}},"y":{"field":"r","type":"ordinal","scale":{"domain":[0,1,2,3,4,5,6,7,8,9,10,11,12]}},"color":{"field":"v","type":"quantitative","legend":null,"scale":{"domain":[0,0.482],"scheme":"plasma"}}}}]},
{"width":428,"height":346,"data":{"values":[{"t":"Mechanosensing"}]},"mark":{"type":"text","align":"left","dx":-178,"dy":71},"encoding":{"text":{"field":"t"}}},
{"bounds":"flush","spacing":0,"resolve":{"scale":{"color":"independent"}},"hconcat":[
{"width":110,"height":312,"data":{"values":[{}]},"layer":[{"mark":{"type":"text","text":"\u03d1","font":"DejaVu Serif","fontStyle":"italic","fontSize":42,"angle":270,"dx":-4,"dy":12}},{"mark":{"type":"text","text":"\u03b4","font":"DejaVu Serif","fontStyle":"italic","fontSize":28,"angle":270,"dx":18,"dy":20}}]},
{"width":250,"height":312,"view":{"fill":"#440154","stroke":"#222","strokeWidth":3},"data":{"name":"a2"},"mark":"rect","encoding":{"x":{"field":"c","type":"ordinal","scale":{"domain":[0,1,2,3,4,5,6,7,8,9]}},"y":{"field":"r","type":"ordinal","scale":{"domain":[0,1,2,3,4,5,6,7,8,9,10,11,12]}},"color":{"field":"v","type":"quantitative","legend":null,"scale":{"domain":[0,0.28],"scheme":"viridis"}}}}]}
]},
{"spacing":0,"resolve":{"scale":{"color":"independent"},"legend":{"color":"independent"}},"vconcat":[
{"bounds":"flush","spacing":26,"hconcat":[
{"width":45,"height":155,"data":{"values":[]},"mark":"text"},
{"width":230,"height":155,"data":{"values":[{"t":"CNN-\nDeepONet"}]},"mark":{"type":"text","fontSize":45,"lineBreak":"\n","lineHeight":55,"dy":-25},"encoding":{"text":{"field":"t"}}},
{"width":230,"height":155,"data":{"values":[{"t":"FNN-\nDeepONet"}]},"mark":{"type":"text","fontSize":45,"lineBreak":"\n","lineHeight":55,"dy":-25},"encoding":{"text":{"field":"t"}}},
{"width":230,"height":155,"data":{"values":[{"t":"UNet"}]},"mark":{"type":"text","fontSize":45,"dy":2},"encoding":{"text":{"field":"t"}}},
{"width":230,"height":155,"data":{"values":[{"t":"LNO"}]},"mark":{"type":"text","fontSize":45,"dy":2},"encoding":{"text":{"field":"t"}}},
{"width":3,"height":155,"data":{"values":[]},"mark":"text"},
{"width":230,"height":155,"data":{"values":[{"t":"CNN-\nDeepONet"}]},"mark":{"type":"text","fontSize":45,"lineBreak":"\n","lineHeight":55,"dy":-25},"encoding":{"text":{"field":"t"}}},
{"width":230,"height":155,"data":{"values":[{"t":"FNN-\nDeepONet"}]},"mark":{"type":"text","fontSize":45,"lineBreak":"\n","lineHeight":55,"dy":-25},"encoding":{"text":{"field":"t"}}},
{"width":230,"height":155,"data":{"values":[{"t":"UNet"}]},"mark":{"type":"text","fontSize":45,"dy":2},"encoding":{"text":{"field":"t"}}},
{"width":230,"height":155,"data":{"values":[{"t":"LNO"}]},"mark":{"type":"text","fontSize":45,"dy":2},"encoding":{"text":{"field":"t"}}}
]},
{"bounds":"flush","spacing":26,"resolve":{"scale":{"color":"independent"},"legend":{"color":"independent"}},"hconcat":[
{"width":45,"height":286,"data":{"values":[{}]},"layer":[{"mark":{"type":"text","text":"\u03d1\u0302","font":"DejaVu Serif","fontStyle":"italic","fontSize":42,"angle":270,"dx":-14,"dy":4}},{"mark":{"type":"text","text":"c","font":"DejaVu Serif","fontStyle":"italic","fontSize":28,"angle":270,"dx":12,"dy":12}},{"mark":{"type":"text","text":"e","font":"DejaVu Serif","fontStyle":"italic","fontSize":22,"angle":270,"dx":27,"dy":-2}}]},
{"width":230,"height":286,"view":{"fill":"#0d0887","stroke":"#222","strokeWidth":3},"data":{"name":"m1"},"mark":"rect","encoding":{"x":{"field":"c","type":"ordinal","scale":{"domain":[0,1,2,3,4,5,6,7,8,9]}},"y":{"field":"r","type":"ordinal","scale":{"domain":[0,1,2,3,4,5,6,7,8,9,10,11,12]}},"color":{"field":"v","type":"quantitative","legend":null,"scale":{"domain":[0,0.482],"scheme":"plasma"}}}},
{"width":230,"height":286,"view":{"fill":"#0d0887","stroke":"#222","strokeWidth":3},"data":{"name":"m2"},"mark":"rect","encoding":{"x":{"field":"c","type":"ordinal","scale":{"domain":[0,1,2,3,4,5,6,7,8,9]}},"y":{"field":"r","type":"ordinal","scale":{"domain":[0,1,2,3,4,5,6,7,8,9,10,11,12]}},"color":{"field":"v","type":"quantitative","legend":null,"scale":{"domain":[0,0.482],"scheme":"plasma"}}}},
{"width":230,"height":286,"view":{"fill":"#0d0887","stroke":"#222","strokeWidth":3},"data":{"name":"m3"},"mark":"rect","encoding":{"x":{"field":"c","type":"ordinal","scale":{"domain":[0,1,2,3,4,5,6,7,8,9]}},"y":{"field":"r","type":"ordinal","scale":{"domain":[0,1,2,3,4,5,6,7,8,9,10,11,12]}},"color":{"field":"v","type":"quantitative","legend":null,"scale":{"domain":[0,0.482],"scheme":"plasma"}}}},
{"width":230,"height":286,"view":{"fill":"#0d0887","stroke":"#222","strokeWidth":3},"data":{"name":"m4"},"mark":"rect","encoding":{"x":{"field":"c","type":"ordinal","scale":{"domain":[0,1,2,3,4,5,6,7,8,9]}},"y":{"field":"r","type":"ordinal","scale":{"domain":[0,1,2,3,4,5,6,7,8,9,10,11,12]}},"color":{"field":"v","type":"quantitative","legend":null,"scale":{"domain":[0,0.482],"scheme":"plasma"}}}},
{"width":3,"height":286,"data":{"values":[]},"mark":"text"},
{"width":230,"height":286,"view":{"fill":"#0d0887","stroke":"#222","strokeWidth":3},"data":{"name":"m5"},"mark":"rect","encoding":{"x":{"field":"c","type":"ordinal","scale":{"domain":[0,1,2,3,4,5,6,7,8,9]}},"y":{"field":"r","type":"ordinal","scale":{"domain":[0,1,2,3,4,5,6,7,8,9,10,11,12]}},"color":{"field":"v","type":"quantitative","legend":null,"scale":{"domain":[0,0.482],"scheme":"plasma"}}}},
{"width":230,"height":286,"view":{"fill":"#0d0887","stroke":"#222","strokeWidth":3},"data":{"name":"m6"},"mark":"rect","encoding":{"x":{"field":"c","type":"ordinal","scale":{"domain":[0,1,2,3,4,5,6,7,8,9]}},"y":{"field":"r","type":"ordinal","scale":{"domain":[0,1,2,3,4,5,6,7,8,9,10,11,12]}},"color":{"field":"v","type":"quantitative","legend":null,"scale":{"domain":[0,0.482],"scheme":"plasma"}}}},
{"width":230,"height":286,"view":{"fill":"#0d0887","stroke":"#222","strokeWidth":3},"data":{"name":"m7"},"mark":"rect","encoding":{"x":{"field":"c","type":"ordinal","scale":{"domain":[0,1,2,3,4,5,6,7,8,9]}},"y":{"field":"r","type":"ordinal","scale":{"domain":[0,1,2,3,4,5,6,7,8,9,10,11,12]}},"color":{"field":"v","type":"quantitative","legend":null,"scale":{"domain":[0,0.482],"scheme":"plasma"}}}},
{"width":230,"height":286,"view":{"fill":"#0d0887","stroke":"#222","strokeWidth":3},"data":{"name":"m8"},"mark":"rect","encoding":{"x":{"field":"c","type":"ordinal","scale":{"domain":[0,1,2,3,4,5,6,7,8,9]}},"y":{"field":"r","type":"ordinal","scale":{"domain":[0,1,2,3,4,5,6,7,8,9,10,11,12]}},"color":{"field":"v","type":"quantitative","scale":{"domain":[0,0.482],"scheme":"plasma"},"legend":{"title":null,"labelOffset":14,"values":[0,0.2,0.4],"labelExpr":"''+datum.value","encode":{"labels":{"update":{"baseline":{"value":"middle"}}}}}}}}
]},
{"width":100,"height":18,"data":{"values":[]},"mark":"text"},
{"bounds":"flush","spacing":26,"resolve":{"scale":{"color":"independent"},"legend":{"color":"independent"}},"hconcat":[
{"width":45,"height":286,"data":{"values":[{}]},"layer":[{"mark":{"type":"text","text":"\u03d1\u0302","font":"DejaVu Serif","fontStyle":"italic","fontSize":42,"angle":270,"dx":-71,"dy":4}},{"mark":{"type":"text","text":"c","font":"DejaVu Serif","fontStyle":"italic","fontSize":28,"angle":270,"dx":-47,"dy":12}},{"mark":{"type":"text","text":"e","font":"DejaVu Serif","fontStyle":"italic","fontSize":22,"angle":270,"dx":-32,"dy":-2}},{"mark":{"type":"text","text":"\u2212","fontSize":42,"angle":270,"dx":-3,"dy":4}},{"mark":{"type":"text","text":"\u03d1","font":"DejaVu Serif","fontStyle":"italic","fontSize":42,"angle":270,"dx":34,"dy":4}},{"mark":{"type":"text","text":"c","font":"DejaVu Serif","fontStyle":"italic","fontSize":28,"angle":270,"dx":58,"dy":12}},{"mark":{"type":"text","text":"e","font":"DejaVu Serif","fontStyle":"italic","fontSize":22,"angle":270,"dx":73,"dy":-2}}]},
{"width":230,"height":286,"view":{"fill":"white","stroke":"#222","strokeWidth":3},"data":{"name":"n1"},"mark":"rect","encoding":{"x":{"field":"c","type":"ordinal","scale":{"domain":[0,1,2,3,4,5,6,7,8,9]}},"y":{"field":"r","type":"ordinal","scale":{"domain":[0,1,2,3,4,5,6,7,8,9,10,11,12]}},"color":{"field":"v","type":"quantitative","legend":null,"scale":{"domain":[-0.1,0,0.1],"interpolate":"rgb","range":["#0000ff","#ffffff","#ff0000"]}}}},
{"width":230,"height":286,"view":{"fill":"white","stroke":"#222","strokeWidth":3},"data":{"name":"n2"},"mark":"rect","encoding":{"x":{"field":"c","type":"ordinal","scale":{"domain":[0,1,2,3,4,5,6,7,8,9]}},"y":{"field":"r","type":"ordinal","scale":{"domain":[0,1,2,3,4,5,6,7,8,9,10,11,12]}},"color":{"field":"v","type":"quantitative","legend":null,"scale":{"domain":[-0.1,0,0.1],"interpolate":"rgb","range":["#0000ff","#ffffff","#ff0000"]}}}},
{"width":230,"height":286,"view":{"fill":"white","stroke":"#222","strokeWidth":3},"data":{"name":"n3"},"mark":"rect","encoding":{"x":{"field":"c","type":"ordinal","scale":{"domain":[0,1,2,3,4,5,6,7,8,9]}},"y":{"field":"r","type":"ordinal","scale":{"domain":[0,1,2,3,4,5,6,7,8,9,10,11,12]}},"color":{"field":"v","type":"quantitative","legend":null,"scale":{"domain":[-0.1,0,0.1],"interpolate":"rgb","range":["#0000ff","#ffffff","#ff0000"]}}}},
{"width":230,"height":286,"view":{"fill":"white","stroke":"#222","strokeWidth":3},"data":{"name":"n4"},"mark":"rect","encoding":{"x":{"field":"c","type":"ordinal","scale":{"domain":[0,1,2,3,4,5,6,7,8,9]}},"y":{"field":"r","type":"ordinal","scale":{"domain":[0,1,2,3,4,5,6,7,8,9,10,11,12]}},"color":{"field":"v","type":"quantitative","legend":null,"scale":{"domain":[-0.1,0,0.1],"interpolate":"rgb","range":["#0000ff","#ffffff","#ff0000"]}}}},
{"width":3,"height":286,"data":{"values":[]},"mark":"text"},
{"width":230,"height":286,"view":{"fill":"white","stroke":"#222","strokeWidth":3},"data":{"name":"n5"},"mark":"rect","encoding":{"x":{"field":"c","type":"ordinal","scale":{"domain":[0,1,2,3,4,5,6,7,8,9]}},"y":{"field":"r","type":"ordinal","scale":{"domain":[0,1,2,3,4,5,6,7,8,9,10,11,12]}},"color":{"field":"v","type":"quantitative","legend":null,"scale":{"domain":[-0.1,0,0.1],"interpolate":"rgb","range":["#0000ff","#ffffff","#ff0000"]}}}},
{"width":230,"height":286,"view":{"fill":"white","stroke":"#222","strokeWidth":3},"data":{"name":"n6"},"mark":"rect","encoding":{"x":{"field":"c","type":"ordinal","scale":{"domain":[0,1,2,3,4,5,6,7,8,9]}},"y":{"field":"r","type":"ordinal","scale":{"domain":[0,1,2,3,4,5,6,7,8,9,10,11,12]}},"color":{"field":"v","type":"quantitative","legend":null,"scale":{"domain":[-0.1,0,0.1],"interpolate":"rgb","range":["#0000ff","#ffffff","#ff0000"]}}}},
{"width":230,"height":286,"view":{"fill":"white","stroke":"#222","strokeWidth":3},"data":{"name":"n7"},"mark":"rect","encoding":{"x":{"field":"c","type":"ordinal","scale":{"domain":[0,1,2,3,4,5,6,7,8,9]}},"y":{"field":"r","type":"ordinal","scale":{"domain":[0,1,2,3,4,5,6,7,8,9,10,11,12]}},"color":{"field":"v","type":"quantitative","legend":null,"scale":{"domain":[-0.1,0,0.1],"interpolate":"rgb","range":["#0000ff","#ffffff","#ff0000"]}}}},
{"width":230,"height":286,"view":{"fill":"white","stroke":"#222","strokeWidth":3},"data":{"name":"n8"},"mark":"rect","encoding":{"x":{"field":"c","type":"ordinal","scale":{"domain":[0,1,2,3,4,5,6,7,8,9]}},"y":{"field":"r","type":"ordinal","scale":{"domain":[0,1,2,3,4,5,6,7,8,9,10,11,12]}},"color":{"field":"v","type":"quantitative","scale":{"domain":[-0.1,0,0.1],"interpolate":"rgb","range":["#0000ff","#ffffff","#ff0000"]},"legend":{"title":null,"labelOffset":14,"values":[-0.1,0,0.1],"labelExpr":"''+datum.value","encode":{"labels":{"update":{"baseline":{"value":"middle"}}}}}}}}
]},
{"width":100,"height":25,"data":{"values":[]},"mark":"text"},
{"bounds":"flush","spacing":26,"resolve":{"scale":{"color":"independent"},"legend":{"color":"independent"}},"hconcat":[
{"width":45,"height":286,"data":{"values":[{}]},"layer":[{"mark":{"type":"text","text":"\u03d1\u0302","font":"DejaVu Serif","fontStyle":"italic","fontSize":42,"angle":270,"dx":-5,"dy":4}},{"mark":{"type":"text","text":"\u03b4","font":"DejaVu Serif","fontStyle":"italic","fontSize":28,"angle":270,"dx":18,"dy":12}}]},
{"width":230,"height":286,"view":{"fill":"#440154","stroke":"#222","strokeWidth":3},"data":{"name":"o1"},"mark":"rect","encoding":{"x":{"field":"c","type":"ordinal","scale":{"domain":[0,1,2,3,4,5,6,7,8,9]}},"y":{"field":"r","type":"ordinal","scale":{"domain":[0,1,2,3,4,5,6,7,8,9,10,11,12]}},"color":{"field":"v","type":"quantitative","legend":null,"scale":{"domain":[0,0.28],"scheme":"viridis"}}}},
{"width":230,"height":286,"view":{"fill":"#440154","stroke":"#222","strokeWidth":3},"data":{"name":"o2"},"mark":"rect","encoding":{"x":{"field":"c","type":"ordinal","scale":{"domain":[0,1,2,3,4,5,6,7,8,9]}},"y":{"field":"r","type":"ordinal","scale":{"domain":[0,1,2,3,4,5,6,7,8,9,10,11,12]}},"color":{"field":"v","type":"quantitative","legend":null,"scale":{"domain":[0,0.28],"scheme":"viridis"}}}},
{"width":230,"height":286,"view":{"fill":"#440154","stroke":"#222","strokeWidth":3},"data":{"name":"o3"},"mark":"rect","encoding":{"x":{"field":"c","type":"ordinal","scale":{"domain":[0,1,2,3,4,5,6,7,8,9]}},"y":{"field":"r","type":"ordinal","scale":{"domain":[0,1,2,3,4,5,6,7,8,9,10,11,12]}},"color":{"field":"v","type":"quantitative","legend":null,"scale":{"domain":[0,0.28],"scheme":"viridis"}}}},
{"width":230,"height":286,"view":{"fill":"#440154","stroke":"#222","strokeWidth":3},"data":{"name":"o4"},"mark":"rect","encoding":{"x":{"field":"c","type":"ordinal","scale":{"domain":[0,1,2,3,4,5,6,7,8,9]}},"y":{"field":"r","type":"ordinal","scale":{"domain":[0,1,2,3,4,5,6,7,8,9,10,11,12]}},"color":{"field":"v","type":"quantitative","legend":null,"scale":{"domain":[0,0.28],"scheme":"viridis"}}}},
{"width":3,"height":286,"data":{"values":[]},"mark":"text"},
{"width":230,"height":286,"view":{"fill":"#440154","stroke":"#222","strokeWidth":3},"data":{"name":"o5"},"mark":"rect","encoding":{"x":{"field":"c","type":"ordinal","scale":{"domain":[0,1,2,3,4,5,6,7,8,9]}},"y":{"field":"r","type":"ordinal","scale":{"domain":[0,1,2,3,4,5,6,7,8,9,10,11,12]}},"color":{"field":"v","type":"quantitative","legend":null,"scale":{"domain":[0,0.28],"scheme":"viridis"}}}},
{"width":230,"height":286,"view":{"fill":"#440154","stroke":"#222","strokeWidth":3},"data":{"name":"o6"},"mark":"rect","encoding":{"x":{"field":"c","type":"ordinal","scale":{"domain":[0,1,2,3,4,5,6,7,8,9]}},"y":{"field":"r","type":"ordinal","scale":{"domain":[0,1,2,3,4,5,6,7,8,9,10,11,12]}},"color":{"field":"v","type":"quantitative","legend":null,"scale":{"domain":[0,0.28],"scheme":"viridis"}}}},
{"width":230,"height":286,"view":{"fill":"#440154","stroke":"#222","strokeWidth":3},"data":{"name":"o7"},"mark":"rect","encoding":{"x":{"field":"c","type":"ordinal","scale":{"domain":[0,1,2,3,4,5,6,7,8,9]}},"y":{"field":"r","type":"ordinal","scale":{"domain":[0,1,2,3,4,5,6,7,8,9,10,11,12]}},"color":{"field":"v","type":"quantitative","legend":null,"scale":{"domain":[0,0.28],"scheme":"viridis"}}}},
{"width":230,"height":286,"view":{"fill":"#440154","stroke":"#222","strokeWidth":3},"data":{"name":"o8"},"mark":"rect","encoding":{"x":{"field":"c","type":"ordinal","scale":{"domain":[0,1,2,3,4,5,6,7,8,9]}},"y":{"field":"r","type":"ordinal","scale":{"domain":[0,1,2,3,4,5,6,7,8,9,10,11,12]}},"color":{"field":"v","type":"quantitative","scale":{"domain":[0,0.28],"scheme":"viridis"},"legend":{"title":null,"labelOffset":14,"values":[0,0.1,0.2],"labelExpr":"''+datum.value","encode":{"labels":{"update":{"baseline":{"value":"middle"}}}}}}}}
]},
{"width":100,"height":17,"data":{"values":[]},"mark":"text"},
{"bounds":"flush","spacing":26,"resolve":{"scale":{"color":"independent"},"legend":{"color":"independent"}},"hconcat":[
{"width":45,"height":286,"data":{"values":[{}]},"layer":[{"mark":{"type":"text","text":"\u03d1\u0302","font":"DejaVu Serif","fontStyle":"italic","fontSize":42,"angle":270,"dx":-71,"dy":4}},{"mark":{"type":"text","text":"\u03b4","font":"DejaVu Serif","fontStyle":"italic","fontSize":28,"angle":270,"dx":-46,"dy":12}},{"mark":{"type":"text","text":"\u2212","fontSize":42,"angle":270,"dx":-12,"dy":4}},{"mark":{"type":"text","text":"\u03d1","font":"DejaVu Serif","fontStyle":"italic","fontSize":42,"angle":270,"dx":30,"dy":4}},{"mark":{"type":"text","text":"\u03b4","font":"DejaVu Serif","fontStyle":"italic","fontSize":28,"angle":270,"dx":55,"dy":12}}]},
{"width":230,"height":286,"view":{"fill":"white","stroke":"#222","strokeWidth":3},"data":{"name":"q1"},"mark":"rect","encoding":{"x":{"field":"c","type":"ordinal","scale":{"domain":[0,1,2,3,4,5,6,7,8,9]}},"y":{"field":"r","type":"ordinal","scale":{"domain":[0,1,2,3,4,5,6,7,8,9,10,11,12]}},"color":{"field":"v","type":"quantitative","legend":null,"scale":{"domain":[-0.1,0,0.1],"interpolate":"rgb","range":["#0000ff","#ffffff","#ff0000"]}}}},
{"width":230,"height":286,"view":{"fill":"white","stroke":"#222","strokeWidth":3},"data":{"name":"q2"},"mark":"rect","encoding":{"x":{"field":"c","type":"ordinal","scale":{"domain":[0,1,2,3,4,5,6,7,8,9]}},"y":{"field":"r","type":"ordinal","scale":{"domain":[0,1,2,3,4,5,6,7,8,9,10,11,12]}},"color":{"field":"v","type":"quantitative","legend":null,"scale":{"domain":[-0.1,0,0.1],"interpolate":"rgb","range":["#0000ff","#ffffff","#ff0000"]}}}},
{"width":230,"height":286,"view":{"fill":"white","stroke":"#222","strokeWidth":3},"data":{"name":"q3"},"mark":"rect","encoding":{"x":{"field":"c","type":"ordinal","scale":{"domain":[0,1,2,3,4,5,6,7,8,9]}},"y":{"field":"r","type":"ordinal","scale":{"domain":[0,1,2,3,4,5,6,7,8,9,10,11,12]}},"color":{"field":"v","type":"quantitative","legend":null,"scale":{"domain":[-0.1,0,0.1],"interpolate":"rgb","range":["#0000ff","#ffffff","#ff0000"]}}}},
{"width":230,"height":286,"view":{"fill":"white","stroke":"#222","strokeWidth":3},"data":{"name":"q4"},"mark":"rect","encoding":{"x":{"field":"c","type":"ordinal","scale":{"domain":[0,1,2,3,4,5,6,7,8,9]}},"y":{"field":"r","type":"ordinal","scale":{"domain":[0,1,2,3,4,5,6,7,8,9,10,11,12]}},"color":{"field":"v","type":"quantitative","legend":null,"scale":{"domain":[-0.1,0,0.1],"interpolate":"rgb","range":["#0000ff","#ffffff","#ff0000"]}}}},
{"width":3,"height":286,"data":{"values":[]},"mark":"text"},
{"width":230,"height":286,"view":{"fill":"white","stroke":"#222","strokeWidth":3},"data":{"name":"q5"},"mark":"rect","encoding":{"x":{"field":"c","type":"ordinal","scale":{"domain":[0,1,2,3,4,5,6,7,8,9]}},"y":{"field":"r","type":"ordinal","scale":{"domain":[0,1,2,3,4,5,6,7,8,9,10,11,12]}},"color":{"field":"v","type":"quantitative","legend":null,"scale":{"domain":[-0.1,0,0.1],"interpolate":"rgb","range":["#0000ff","#ffffff","#ff0000"]}}}},
{"width":230,"height":286,"view":{"fill":"white","stroke":"#222","strokeWidth":3},"data":{"name":"q6"},"mark":"rect","encoding":{"x":{"field":"c","type":"ordinal","scale":{"domain":[0,1,2,3,4,5,6,7,8,9]}},"y":{"field":"r","type":"ordinal","scale":{"domain":[0,1,2,3,4,5,6,7,8,9,10,11,12]}},"color":{"field":"v","type":"quantitative","legend":null,"scale":{"domain":[-0.1,0,0.1],"interpolate":"rgb","range":["#0000ff","#ffffff","#ff0000"]}}}},
{"width":230,"height":286,"view":{"fill":"white","stroke":"#222","strokeWidth":3},"data":{"name":"q7"},"mark":"rect","encoding":{"x":{"field":"c","type":"ordinal","scale":{"domain":[0,1,2,3,4,5,6,7,8,9]}},"y":{"field":"r","type":"ordinal","scale":{"domain":[0,1,2,3,4,5,6,7,8,9,10,11,12]}},"color":{"field":"v","type":"quantitative","legend":null,"scale":{"domain":[-0.1,0,0.1],"interpolate":"rgb","range":["#0000ff","#ffffff","#ff0000"]}}}},
{"width":230,"height":286,"view":{"fill":"white","stroke":"#222","strokeWidth":3},"data":{"name":"q8"},"mark":"rect","encoding":{"x":{"field":"c","type":"ordinal","scale":{"domain":[0,1,2,3,4,5,6,7,8,9]}},"y":{"field":"r","type":"ordinal","scale":{"domain":[0,1,2,3,4,5,6,7,8,9,10,11,12]}},"color":{"field":"v","type":"quantitative","scale":{"domain":[-0.1,0,0.1],"interpolate":"rgb","range":["#0000ff","#ffffff","#ff0000"]},"legend":{"title":null,"labelOffset":14,"values":[-0.1,0,0.1],"labelExpr":"''+datum.value","encode":{"labels":{"update":{"baseline":{"value":"middle"}}}}}}}}
]}
]}
]}
]}
